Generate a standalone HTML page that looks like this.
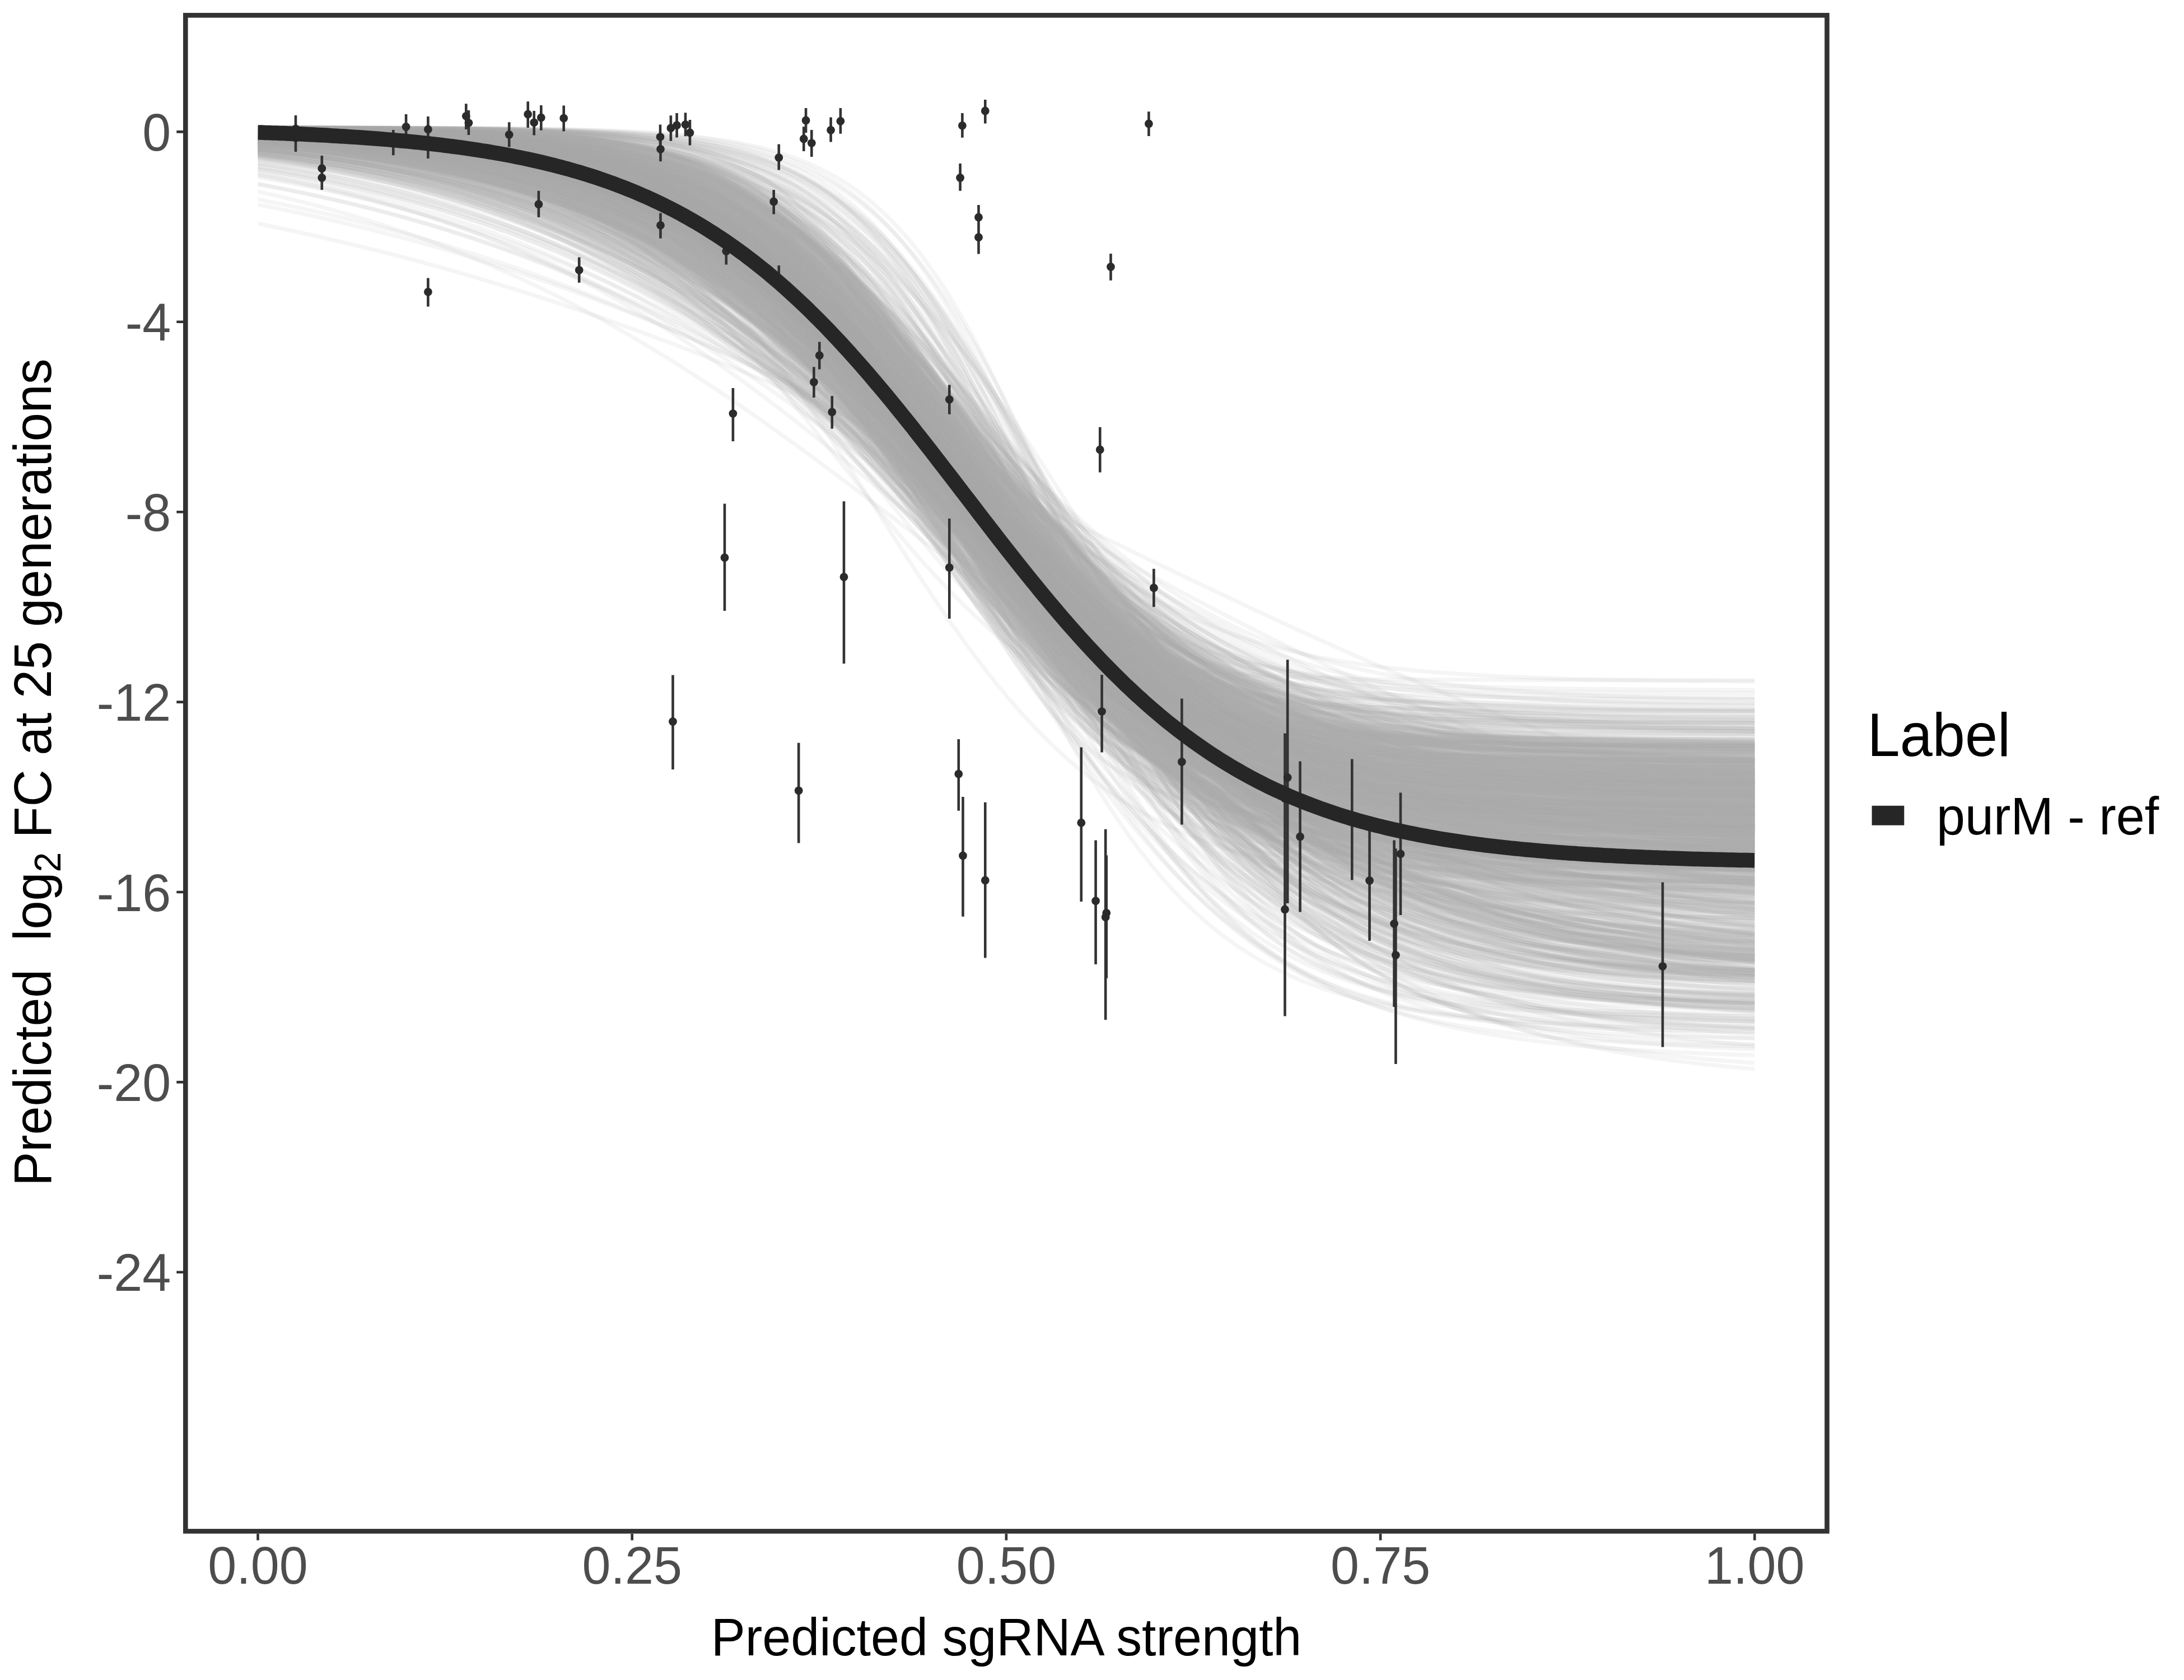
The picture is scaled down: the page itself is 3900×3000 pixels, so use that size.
<!DOCTYPE html>
<html><head><meta charset="utf-8"><title>Predicted log2 FC</title>
<style>html,body{margin:0;padding:0;background:#fff;overflow:hidden}svg{display:block}text{font-family:'Liberation Sans',Arial,Helvetica,sans-serif;white-space:pre}</style></head>
<body>
<svg width="3900" height="3000" viewBox="0 0 3900 3000">
<defs>
<path id="s" d="M-14.00 0.00000 -13.50 0.00000 -13.00 0.00000 -12.50 0.00000 -12.00 0.00001 -11.50 0.00001 -11.00 0.00002 -10.50 0.00003 -10.00 0.00005 -9.50 0.00007 -9.00 0.00012 -8.50 0.00020 -8.00 0.00034 -7.50 0.00055 -7.00 0.00091 -6.50 0.00150 -6.00 0.00247 -5.90 0.00273 -5.80 0.00302 -5.70 0.00333 -5.60 0.00368 -5.50 0.00407 -5.40 0.00450 -5.30 0.00497 -5.20 0.00549 -5.10 0.00606 -5.00 0.00669 -4.90 0.00739 -4.80 0.00816 -4.70 0.00901 -4.60 0.00995 -4.50 0.01099 -4.40 0.01213 -4.30 0.01339 -4.20 0.01477 -4.10 0.01630 -4.00 0.01799 -3.90 0.01984 -3.80 0.02188 -3.70 0.02413 -3.60 0.02660 -3.50 0.02931 -3.40 0.03230 -3.30 0.03557 -3.20 0.03917 -3.10 0.04311 -3.00 0.04743 -2.90 0.05215 -2.80 0.05732 -2.70 0.06297 -2.60 0.06914 -2.50 0.07586 -2.40 0.08317 -2.30 0.09112 -2.20 0.09975 -2.10 0.10910 -2.00 0.11920 -1.90 0.13011 -1.80 0.14185 -1.70 0.15447 -1.60 0.16798 -1.50 0.18243 -1.40 0.19782 -1.30 0.21417 -1.20 0.23148 -1.10 0.24974 -1.00 0.26894 -0.90 0.28905 -0.80 0.31003 -0.70 0.33181 -0.60 0.35434 -0.50 0.37754 -0.40 0.40131 -0.30 0.42556 -0.20 0.45017 -0.10 0.47502 -0.00 0.50000 0.10 0.52498 0.20 0.54983 0.30 0.57444 0.40 0.59869 0.50 0.62246 0.60 0.64566 0.70 0.66819 0.80 0.68997 0.90 0.71095 1.00 0.73106 1.10 0.75026 1.20 0.76852 1.30 0.78583 1.40 0.80218 1.50 0.81757 1.60 0.83202 1.70 0.84553 1.80 0.85815 1.90 0.86989 2.00 0.88080 2.10 0.89090 2.20 0.90025 2.30 0.90888 2.40 0.91683 2.50 0.92414 2.60 0.93086 2.70 0.93703 2.80 0.94268 2.90 0.94785 3.00 0.95257 3.10 0.95689 3.20 0.96083 3.30 0.96443 3.40 0.96770 3.50 0.97069 3.60 0.97340 3.70 0.97587 3.80 0.97812 3.90 0.98016 4.00 0.98201 4.10 0.98370 4.20 0.98523 4.30 0.98661 4.40 0.98787 4.50 0.98901 4.60 0.99005 4.70 0.99099 4.80 0.99184 4.90 0.99261 5.00 0.99331 5.10 0.99394 5.20 0.99451 5.30 0.99503 5.40 0.99550 5.50 0.99593 5.60 0.99632 5.70 0.99667 5.80 0.99698 5.90 0.99727 6.00 0.99753 6.50 0.99850 7.00 0.99909 7.50 0.99945 8.00 0.99966 8.50 0.99980 9.00 0.99988 9.50 0.99993 10.00 0.99995 10.50 0.99997 11.00 0.99998 11.50 0.99999 12.00 0.99999 12.50 1.00000 13.00 1.00000 13.50 1.00000 14.00 1.00000" vector-effect="non-scaling-stroke"/>
<clipPath id="cu"><rect x="460.5" y="0" width="2672.8" height="3000"/></clipPath>
<clipPath id="pn"><rect x="326.9" y="22.9" width="2940" height="2715.9"/></clipPath>
</defs>
<rect width="3900" height="3000" fill="#fff"/>
<g clip-path="url(#pn)">
<g clip-path="url(#cu)" fill="none" stroke="#b0b0b0" stroke-opacity="0.12" stroke-width="7.2">
<use href="#s" transform="matrix(192.02 0 0 1257.7 1608.4 227.8)"/><use href="#s" transform="matrix(281.48 0 0 1389.3 1685.5 227.8)"/><use href="#s" transform="matrix(260.44 0 0 1154.7 1684.7 227.8)"/><use href="#s" transform="matrix(233.77 0 0 1303.0 1737.5 227.8)"/><use href="#s" transform="matrix(258.16 0 0 1082.5 1760.2 227.8)"/><use href="#s" transform="matrix(182.76 0 0 1316.2 1755.3 227.8)"/><use href="#s" transform="matrix(173.47 0 0 1136.2 1705.4 227.8)"/><use href="#s" transform="matrix(275.91 0 0 1244.3 1708.2 227.8)"/><use href="#s" transform="matrix(201.98 0 0 1211.5 1696.7 227.8)"/><use href="#s" transform="matrix(313.91 0 0 1378.6 1749.9 227.8)"/><use href="#s" transform="matrix(285.83 0 0 1270.8 1656.1 227.8)"/><use href="#s" transform="matrix(240.48 0 0 1320.6 1702.3 227.8)"/><use href="#s" transform="matrix(274.33 0 0 1261.0 1721.0 227.8)"/><use href="#s" transform="matrix(216.36 0 0 1171.5 1736.2 227.8)"/><use href="#s" transform="matrix(199.55 0 0 1194.5 1638.9 227.8)"/><use href="#s" transform="matrix(286.82 0 0 1199.0 1700.0 227.8)"/><use href="#s" transform="matrix(246.19 0 0 1231.8 1689.0 227.8)"/><use href="#s" transform="matrix(214.57 0 0 1353.4 1650.3 227.8)"/><use href="#s" transform="matrix(352.90 0 0 1336.6 1693.2 227.8)"/><use href="#s" transform="matrix(228.56 0 0 1209.2 1645.9 227.8)"/><use href="#s" transform="matrix(217.78 0 0 1161.5 1655.2 227.8)"/><use href="#s" transform="matrix(199.55 0 0 1168.4 1729.7 227.8)"/><use href="#s" transform="matrix(234.59 0 0 1219.3 1697.3 227.8)"/><use href="#s" transform="matrix(245.78 0 0 1184.5 1646.8 227.8)"/><use href="#s" transform="matrix(255.63 0 0 1285.0 1702.5 227.8)"/><use href="#s" transform="matrix(221.60 0 0 1243.0 1766.1 227.8)"/><use href="#s" transform="matrix(245.78 0 0 1200.3 1707.7 227.8)"/><use href="#s" transform="matrix(177.02 0 0 1151.1 1722.2 227.8)"/><use href="#s" transform="matrix(258.25 0 0 1289.4 1745.3 227.8)"/><use href="#s" transform="matrix(242.03 0 0 1324.2 1697.3 227.8)"/><use href="#s" transform="matrix(171.64 0 0 1083.3 1651.4 227.8)"/><use href="#s" transform="matrix(188.55 0 0 1151.3 1696.9 227.8)"/><use href="#s" transform="matrix(209.23 0 0 1104.2 1666.7 227.8)"/><use href="#s" transform="matrix(356.62 0 0 1318.5 1708.5 227.8)"/><use href="#s" transform="matrix(185.51 0 0 1212.3 1635.4 227.8)"/><use href="#s" transform="matrix(221.72 0 0 990.7 1679.4 227.8)"/><use href="#s" transform="matrix(193.64 0 0 1300.6 1717.6 227.8)"/><use href="#s" transform="matrix(189.52 0 0 1154.7 1680.9 227.8)"/><use href="#s" transform="matrix(231.40 0 0 1206.7 1757.0 227.8)"/><use href="#s" transform="matrix(255.50 0 0 1146.4 1690.4 227.8)"/><use href="#s" transform="matrix(268.12 0 0 1218.7 1662.1 227.8)"/><use href="#s" transform="matrix(197.88 0 0 1259.4 1729.1 227.8)"/><use href="#s" transform="matrix(207.06 0 0 1288.6 1605.2 227.8)"/><use href="#s" transform="matrix(228.67 0 0 1097.0 1625.5 227.8)"/><use href="#s" transform="matrix(212.38 0 0 1139.1 1623.2 227.8)"/><use href="#s" transform="matrix(315.71 0 0 1185.4 1660.9 227.8)"/><use href="#s" transform="matrix(295.02 0 0 1354.0 1737.8 227.8)"/><use href="#s" transform="matrix(274.62 0 0 1290.8 1740.5 227.8)"/><use href="#s" transform="matrix(216.01 0 0 1244.3 1667.0 227.8)"/><use href="#s" transform="matrix(242.29 0 0 1102.5 1659.3 227.8)"/><use href="#s" transform="matrix(257.77 0 0 1274.3 1689.3 227.8)"/><use href="#s" transform="matrix(194.65 0 0 1208.6 1661.3 227.8)"/><use href="#s" transform="matrix(336.02 0 0 1371.0 1701.3 227.8)"/><use href="#s" transform="matrix(236.76 0 0 1305.0 1666.9 227.8)"/><use href="#s" transform="matrix(262.49 0 0 1214.9 1743.3 227.8)"/><use href="#s" transform="matrix(280.01 0 0 1274.7 1731.0 227.8)"/><use href="#s" transform="matrix(230.97 0 0 1192.1 1697.5 227.8)"/><use href="#s" transform="matrix(209.10 0 0 1175.0 1710.0 227.8)"/><use href="#s" transform="matrix(206.50 0 0 1263.9 1684.5 227.8)"/><use href="#s" transform="matrix(221.43 0 0 1099.2 1691.0 227.8)"/><use href="#s" transform="matrix(216.07 0 0 1226.7 1733.9 227.8)"/><use href="#s" transform="matrix(238.15 0 0 1214.1 1651.2 227.8)"/><use href="#s" transform="matrix(273.32 0 0 1322.5 1664.2 227.8)"/><use href="#s" transform="matrix(226.85 0 0 1128.8 1760.4 227.8)"/><use href="#s" transform="matrix(336.97 0 0 1297.0 1716.4 227.8)"/><use href="#s" transform="matrix(219.56 0 0 1248.9 1714.9 227.8)"/><use href="#s" transform="matrix(207.97 0 0 1168.4 1660.6 227.8)"/><use href="#s" transform="matrix(212.98 0 0 1041.0 1639.4 227.8)"/><use href="#s" transform="matrix(219.21 0 0 1314.7 1655.5 227.8)"/><use href="#s" transform="matrix(237.27 0 0 1240.6 1632.5 227.8)"/><use href="#s" transform="matrix(196.32 0 0 1055.1 1676.9 227.8)"/><use href="#s" transform="matrix(347.65 0 0 1172.4 1708.5 227.8)"/><use href="#s" transform="matrix(258.06 0 0 1173.7 1681.8 227.8)"/><use href="#s" transform="matrix(193.46 0 0 1127.7 1679.5 227.8)"/><use href="#s" transform="matrix(214.09 0 0 1175.4 1687.6 227.8)"/><use href="#s" transform="matrix(208.71 0 0 1096.4 1656.6 227.8)"/><use href="#s" transform="matrix(221.65 0 0 1078.9 1699.2 227.8)"/><use href="#s" transform="matrix(177.09 0 0 1170.2 1761.3 227.8)"/><use href="#s" transform="matrix(210.06 0 0 1197.4 1786.0 227.8)"/><use href="#s" transform="matrix(264.81 0 0 1195.2 1680.7 227.8)"/><use href="#s" transform="matrix(257.05 0 0 1107.8 1699.0 227.8)"/><use href="#s" transform="matrix(218.36 0 0 1187.7 1714.8 227.8)"/><use href="#s" transform="matrix(226.58 0 0 1157.9 1676.8 227.8)"/><use href="#s" transform="matrix(253.62 0 0 1166.1 1710.6 227.8)"/><use href="#s" transform="matrix(221.28 0 0 1212.1 1742.6 227.8)"/><use href="#s" transform="matrix(313.41 0 0 1320.7 1680.8 227.8)"/><use href="#s" transform="matrix(226.25 0 0 1201.8 1739.4 227.8)"/><use href="#s" transform="matrix(231.07 0 0 1141.4 1700.3 227.8)"/><use href="#s" transform="matrix(213.77 0 0 1342.1 1659.0 227.8)"/><use href="#s" transform="matrix(264.02 0 0 1205.7 1742.3 227.8)"/><use href="#s" transform="matrix(261.94 0 0 1265.9 1679.0 227.8)"/><use href="#s" transform="matrix(208.00 0 0 1251.7 1659.8 227.8)"/><use href="#s" transform="matrix(225.15 0 0 1195.9 1694.6 227.8)"/><use href="#s" transform="matrix(287.57 0 0 1255.7 1682.8 227.8)"/><use href="#s" transform="matrix(190.73 0 0 1051.5 1719.7 227.8)"/><use href="#s" transform="matrix(214.17 0 0 1054.8 1717.1 227.8)"/><use href="#s" transform="matrix(317.54 0 0 1211.9 1766.4 227.8)"/><use href="#s" transform="matrix(164.15 0 0 1103.7 1641.1 227.8)"/><use href="#s" transform="matrix(219.88 0 0 1162.8 1687.8 227.8)"/><use href="#s" transform="matrix(231.50 0 0 1280.5 1697.2 227.8)"/><use href="#s" transform="matrix(240.17 0 0 1351.6 1726.2 227.8)"/><use href="#s" transform="matrix(243.53 0 0 1237.0 1698.1 227.8)"/><use href="#s" transform="matrix(234.03 0 0 1286.6 1707.3 227.8)"/><use href="#s" transform="matrix(272.76 0 0 1320.8 1736.4 227.8)"/><use href="#s" transform="matrix(308.75 0 0 1305.5 1706.9 227.8)"/><use href="#s" transform="matrix(326.34 0 0 1387.4 1784.9 227.8)"/><use href="#s" transform="matrix(199.74 0 0 1133.3 1630.3 227.8)"/><use href="#s" transform="matrix(236.68 0 0 1170.5 1666.8 227.8)"/><use href="#s" transform="matrix(228.44 0 0 1320.1 1749.3 227.8)"/><use href="#s" transform="matrix(185.02 0 0 1242.4 1739.4 227.8)"/><use href="#s" transform="matrix(289.51 0 0 1254.5 1744.0 227.8)"/><use href="#s" transform="matrix(248.48 0 0 1285.4 1741.9 227.8)"/><use href="#s" transform="matrix(267.82 0 0 1296.8 1739.3 227.8)"/><use href="#s" transform="matrix(232.82 0 0 1256.6 1685.6 227.8)"/><use href="#s" transform="matrix(221.89 0 0 1183.7 1760.0 227.8)"/><use href="#s" transform="matrix(316.33 0 0 1458.6 1684.9 227.8)"/><use href="#s" transform="matrix(261.84 0 0 1194.3 1680.3 227.8)"/><use href="#s" transform="matrix(285.26 0 0 1261.2 1740.4 227.8)"/><use href="#s" transform="matrix(200.25 0 0 1298.8 1786.6 227.8)"/><use href="#s" transform="matrix(180.77 0 0 1319.1 1673.5 227.8)"/><use href="#s" transform="matrix(236.52 0 0 1250.0 1722.9 227.8)"/><use href="#s" transform="matrix(275.73 0 0 1321.7 1798.0 227.8)"/><use href="#s" transform="matrix(253.36 0 0 1346.9 1737.5 227.8)"/><use href="#s" transform="matrix(321.87 0 0 1141.3 1699.1 227.8)"/><use href="#s" transform="matrix(235.22 0 0 1254.4 1650.2 227.8)"/><use href="#s" transform="matrix(170.05 0 0 1185.5 1715.5 227.8)"/><use href="#s" transform="matrix(264.03 0 0 1282.7 1745.9 227.8)"/><use href="#s" transform="matrix(237.43 0 0 1348.6 1693.5 227.8)"/><use href="#s" transform="matrix(280.11 0 0 1251.7 1695.7 227.8)"/><use href="#s" transform="matrix(273.00 0 0 1280.5 1701.1 227.8)"/><use href="#s" transform="matrix(279.50 0 0 1363.7 1757.9 227.8)"/><use href="#s" transform="matrix(275.59 0 0 1199.3 1703.9 227.8)"/><use href="#s" transform="matrix(315.79 0 0 1194.2 1652.1 227.8)"/><use href="#s" transform="matrix(178.82 0 0 1188.9 1656.3 227.8)"/><use href="#s" transform="matrix(213.12 0 0 1223.1 1708.9 227.8)"/><use href="#s" transform="matrix(173.77 0 0 1196.1 1746.6 227.8)"/><use href="#s" transform="matrix(158.86 0 0 1028.8 1684.3 227.8)"/><use href="#s" transform="matrix(256.40 0 0 1318.0 1752.4 227.8)"/><use href="#s" transform="matrix(216.94 0 0 1414.9 1800.1 227.8)"/><use href="#s" transform="matrix(226.02 0 0 1325.2 1753.1 227.8)"/><use href="#s" transform="matrix(145.69 0 0 1130.5 1679.3 227.8)"/><use href="#s" transform="matrix(239.39 0 0 1255.7 1726.3 227.8)"/><use href="#s" transform="matrix(185.15 0 0 1052.4 1608.3 227.8)"/><use href="#s" transform="matrix(289.39 0 0 1141.3 1617.8 227.8)"/><use href="#s" transform="matrix(270.76 0 0 1280.0 1706.8 227.8)"/><use href="#s" transform="matrix(280.12 0 0 1210.6 1672.1 227.8)"/><use href="#s" transform="matrix(219.91 0 0 1118.7 1578.8 227.8)"/><use href="#s" transform="matrix(196.70 0 0 1190.8 1744.8 227.8)"/><use href="#s" transform="matrix(244.30 0 0 1333.6 1664.7 227.8)"/><use href="#s" transform="matrix(237.84 0 0 1310.0 1721.3 227.8)"/><use href="#s" transform="matrix(197.42 0 0 1121.8 1746.3 227.8)"/><use href="#s" transform="matrix(263.86 0 0 1293.9 1737.4 227.8)"/><use href="#s" transform="matrix(230.07 0 0 1225.3 1738.2 227.8)"/><use href="#s" transform="matrix(241.85 0 0 1256.3 1721.9 227.8)"/><use href="#s" transform="matrix(256.26 0 0 1153.9 1717.6 227.8)"/><use href="#s" transform="matrix(204.19 0 0 1173.0 1599.6 227.8)"/><use href="#s" transform="matrix(270.27 0 0 1338.3 1796.0 227.8)"/><use href="#s" transform="matrix(243.38 0 0 1025.0 1742.5 227.8)"/><use href="#s" transform="matrix(228.85 0 0 1239.1 1705.3 227.8)"/><use href="#s" transform="matrix(220.50 0 0 1239.5 1650.0 227.8)"/><use href="#s" transform="matrix(188.81 0 0 1210.2 1696.5 227.8)"/><use href="#s" transform="matrix(219.32 0 0 1170.9 1739.5 227.8)"/><use href="#s" transform="matrix(238.72 0 0 1207.5 1721.2 227.8)"/><use href="#s" transform="matrix(202.85 0 0 1304.7 1695.1 227.8)"/><use href="#s" transform="matrix(207.00 0 0 1257.1 1607.0 227.8)"/><use href="#s" transform="matrix(222.74 0 0 1238.6 1694.6 227.8)"/><use href="#s" transform="matrix(198.05 0 0 1151.9 1742.6 227.8)"/><use href="#s" transform="matrix(253.23 0 0 1218.1 1692.0 227.8)"/><use href="#s" transform="matrix(225.43 0 0 1376.6 1715.6 227.8)"/><use href="#s" transform="matrix(260.13 0 0 1132.4 1678.3 227.8)"/><use href="#s" transform="matrix(219.58 0 0 1198.6 1640.3 227.8)"/><use href="#s" transform="matrix(214.32 0 0 1215.6 1614.8 227.8)"/><use href="#s" transform="matrix(269.56 0 0 1456.9 1754.3 227.8)"/><use href="#s" transform="matrix(245.24 0 0 1116.2 1737.8 227.8)"/><use href="#s" transform="matrix(385.57 0 0 1310.7 1785.7 227.8)"/><use href="#s" transform="matrix(229.44 0 0 1295.5 1654.1 227.8)"/><use href="#s" transform="matrix(266.96 0 0 1251.3 1735.8 227.8)"/><use href="#s" transform="matrix(254.98 0 0 1408.9 1771.4 227.8)"/><use href="#s" transform="matrix(269.89 0 0 1200.4 1704.8 227.8)"/><use href="#s" transform="matrix(206.25 0 0 1326.8 1703.1 227.8)"/><use href="#s" transform="matrix(257.94 0 0 1251.8 1626.2 227.8)"/><use href="#s" transform="matrix(225.05 0 0 1236.5 1680.7 227.8)"/><use href="#s" transform="matrix(310.58 0 0 1213.3 1714.7 227.8)"/><use href="#s" transform="matrix(271.20 0 0 1362.2 1750.1 227.8)"/><use href="#s" transform="matrix(278.47 0 0 1270.0 1723.5 227.8)"/><use href="#s" transform="matrix(133.58 0 0 1157.4 1679.1 227.8)"/><use href="#s" transform="matrix(271.55 0 0 1134.9 1768.1 227.8)"/><use href="#s" transform="matrix(235.11 0 0 1286.1 1642.9 227.8)"/><use href="#s" transform="matrix(271.53 0 0 1179.2 1754.6 227.8)"/><use href="#s" transform="matrix(163.58 0 0 1182.5 1705.2 227.8)"/><use href="#s" transform="matrix(184.02 0 0 1200.1 1587.6 227.8)"/><use href="#s" transform="matrix(232.05 0 0 1156.1 1743.5 227.8)"/><use href="#s" transform="matrix(247.61 0 0 1331.2 1630.0 227.8)"/><use href="#s" transform="matrix(267.63 0 0 1182.0 1761.4 227.8)"/><use href="#s" transform="matrix(205.56 0 0 1189.6 1779.6 227.8)"/><use href="#s" transform="matrix(209.36 0 0 1222.1 1677.3 227.8)"/><use href="#s" transform="matrix(235.47 0 0 1233.1 1702.7 227.8)"/><use href="#s" transform="matrix(253.11 0 0 1235.0 1794.5 227.8)"/><use href="#s" transform="matrix(212.85 0 0 1171.6 1676.4 227.8)"/><use href="#s" transform="matrix(160.78 0 0 1043.0 1673.3 227.8)"/><use href="#s" transform="matrix(232.02 0 0 1111.3 1610.0 227.8)"/><use href="#s" transform="matrix(188.62 0 0 1254.5 1752.4 227.8)"/><use href="#s" transform="matrix(274.60 0 0 1117.3 1720.0 227.8)"/><use href="#s" transform="matrix(276.38 0 0 1392.6 1774.9 227.8)"/><use href="#s" transform="matrix(209.77 0 0 1108.8 1702.7 227.8)"/><use href="#s" transform="matrix(235.36 0 0 1190.8 1729.1 227.8)"/><use href="#s" transform="matrix(260.83 0 0 1172.2 1734.4 227.8)"/><use href="#s" transform="matrix(284.30 0 0 1249.3 1731.8 227.8)"/><use href="#s" transform="matrix(201.72 0 0 1177.3 1687.4 227.8)"/><use href="#s" transform="matrix(260.26 0 0 1201.1 1711.4 227.8)"/><use href="#s" transform="matrix(172.91 0 0 1222.5 1684.1 227.8)"/><use href="#s" transform="matrix(146.67 0 0 1111.6 1569.0 227.8)"/><use href="#s" transform="matrix(320.27 0 0 1387.7 1796.3 227.8)"/><use href="#s" transform="matrix(212.72 0 0 1209.8 1695.1 227.8)"/><use href="#s" transform="matrix(215.06 0 0 1216.3 1664.1 227.8)"/><use href="#s" transform="matrix(295.23 0 0 1270.3 1679.6 227.8)"/><use href="#s" transform="matrix(228.62 0 0 1181.0 1751.3 227.8)"/><use href="#s" transform="matrix(250.27 0 0 1152.9 1640.3 227.8)"/><use href="#s" transform="matrix(207.61 0 0 1189.5 1654.3 227.8)"/><use href="#s" transform="matrix(252.71 0 0 1199.3 1703.6 227.8)"/><use href="#s" transform="matrix(175.99 0 0 1058.5 1710.6 227.8)"/><use href="#s" transform="matrix(220.44 0 0 1152.5 1644.7 227.8)"/><use href="#s" transform="matrix(235.72 0 0 1320.0 1847.8 227.8)"/><use href="#s" transform="matrix(266.90 0 0 1206.8 1680.0 227.8)"/><use href="#s" transform="matrix(202.10 0 0 1118.0 1695.1 227.8)"/><use href="#s" transform="matrix(242.52 0 0 1313.0 1690.6 227.8)"/><use href="#s" transform="matrix(244.40 0 0 1350.2 1754.2 227.8)"/><use href="#s" transform="matrix(241.04 0 0 1125.7 1658.8 227.8)"/><use href="#s" transform="matrix(324.45 0 0 1191.8 1767.8 227.8)"/><use href="#s" transform="matrix(201.80 0 0 1208.1 1728.6 227.8)"/><use href="#s" transform="matrix(249.27 0 0 1372.5 1736.4 227.8)"/><use href="#s" transform="matrix(215.18 0 0 1163.1 1773.7 227.8)"/><use href="#s" transform="matrix(222.40 0 0 1080.7 1694.7 227.8)"/><use href="#s" transform="matrix(331.06 0 0 1387.2 1711.7 227.8)"/><use href="#s" transform="matrix(143.14 0 0 1244.0 1641.4 227.8)"/><use href="#s" transform="matrix(205.77 0 0 1216.6 1661.9 227.8)"/><use href="#s" transform="matrix(228.86 0 0 1267.0 1688.7 227.8)"/><use href="#s" transform="matrix(184.35 0 0 1264.2 1702.4 227.8)"/><use href="#s" transform="matrix(254.60 0 0 1194.2 1714.1 227.8)"/><use href="#s" transform="matrix(254.42 0 0 1331.7 1732.8 227.8)"/><use href="#s" transform="matrix(347.00 0 0 1505.6 1696.2 227.8)"/><use href="#s" transform="matrix(250.19 0 0 1258.3 1737.1 227.8)"/><use href="#s" transform="matrix(250.75 0 0 1352.5 1710.2 227.8)"/><use href="#s" transform="matrix(229.01 0 0 1281.5 1704.0 227.8)"/><use href="#s" transform="matrix(199.66 0 0 1182.2 1681.7 227.8)"/><use href="#s" transform="matrix(188.27 0 0 1134.0 1658.2 227.8)"/><use href="#s" transform="matrix(201.01 0 0 1185.0 1654.4 227.8)"/><use href="#s" transform="matrix(271.01 0 0 1216.7 1635.6 227.8)"/><use href="#s" transform="matrix(188.41 0 0 1259.3 1655.2 227.8)"/><use href="#s" transform="matrix(222.27 0 0 1343.5 1784.5 227.8)"/><use href="#s" transform="matrix(235.53 0 0 1139.2 1771.4 227.8)"/><use href="#s" transform="matrix(234.52 0 0 1227.4 1736.9 227.8)"/><use href="#s" transform="matrix(272.92 0 0 1289.7 1706.6 227.8)"/><use href="#s" transform="matrix(239.84 0 0 1292.5 1676.8 227.8)"/><use href="#s" transform="matrix(232.50 0 0 1356.4 1701.6 227.8)"/><use href="#s" transform="matrix(191.99 0 0 1184.6 1575.3 227.8)"/><use href="#s" transform="matrix(261.40 0 0 1243.5 1678.3 227.8)"/><use href="#s" transform="matrix(244.00 0 0 1317.6 1861.0 227.8)"/><use href="#s" transform="matrix(216.90 0 0 1215.2 1633.1 227.8)"/><use href="#s" transform="matrix(285.41 0 0 1331.3 1734.7 227.8)"/><use href="#s" transform="matrix(220.47 0 0 1360.8 1739.4 227.8)"/><use href="#s" transform="matrix(285.96 0 0 1359.5 1683.1 227.8)"/><use href="#s" transform="matrix(184.79 0 0 1106.3 1773.8 227.8)"/><use href="#s" transform="matrix(227.15 0 0 1206.8 1686.2 227.8)"/><use href="#s" transform="matrix(331.58 0 0 1281.0 1766.5 227.8)"/><use href="#s" transform="matrix(291.51 0 0 1339.1 1678.0 227.8)"/><use href="#s" transform="matrix(197.11 0 0 1158.3 1758.0 227.8)"/><use href="#s" transform="matrix(273.29 0 0 1148.6 1707.2 227.8)"/><use href="#s" transform="matrix(215.26 0 0 1259.7 1671.2 227.8)"/><use href="#s" transform="matrix(211.60 0 0 1303.8 1629.9 227.8)"/><use href="#s" transform="matrix(206.93 0 0 1207.6 1732.8 227.8)"/><use href="#s" transform="matrix(305.15 0 0 1184.8 1673.3 227.8)"/><use href="#s" transform="matrix(222.75 0 0 1111.5 1736.4 227.8)"/><use href="#s" transform="matrix(218.34 0 0 1176.6 1636.5 227.8)"/><use href="#s" transform="matrix(285.48 0 0 1320.2 1671.6 227.8)"/><use href="#s" transform="matrix(267.93 0 0 1416.6 1760.3 227.8)"/><use href="#s" transform="matrix(152.70 0 0 1065.5 1746.5 227.8)"/><use href="#s" transform="matrix(243.95 0 0 1219.1 1675.6 227.8)"/><use href="#s" transform="matrix(338.67 0 0 1333.9 1745.2 227.8)"/><use href="#s" transform="matrix(280.40 0 0 1429.7 1824.6 227.8)"/><use href="#s" transform="matrix(248.04 0 0 1233.1 1748.9 227.8)"/><use href="#s" transform="matrix(230.26 0 0 1224.2 1681.9 227.8)"/><use href="#s" transform="matrix(220.05 0 0 1126.9 1721.5 227.8)"/><use href="#s" transform="matrix(264.99 0 0 1333.7 1733.5 227.8)"/><use href="#s" transform="matrix(221.38 0 0 1149.9 1683.5 227.8)"/><use href="#s" transform="matrix(230.24 0 0 1218.6 1717.4 227.8)"/><use href="#s" transform="matrix(234.56 0 0 1348.1 1739.6 227.8)"/><use href="#s" transform="matrix(238.06 0 0 1126.3 1693.7 227.8)"/><use href="#s" transform="matrix(211.56 0 0 1240.6 1615.8 227.8)"/><use href="#s" transform="matrix(234.95 0 0 1247.7 1688.9 227.8)"/><use href="#s" transform="matrix(210.22 0 0 1162.2 1682.9 227.8)"/><use href="#s" transform="matrix(342.24 0 0 1275.3 1681.4 227.8)"/><use href="#s" transform="matrix(263.54 0 0 1379.9 1687.0 227.8)"/><use href="#s" transform="matrix(281.06 0 0 1203.4 1775.9 227.8)"/><use href="#s" transform="matrix(234.93 0 0 1370.6 1775.2 227.8)"/><use href="#s" transform="matrix(199.39 0 0 1275.9 1731.5 227.8)"/><use href="#s" transform="matrix(271.02 0 0 1369.3 1720.5 227.8)"/><use href="#s" transform="matrix(240.07 0 0 1183.8 1625.1 227.8)"/><use href="#s" transform="matrix(213.86 0 0 1361.3 1748.3 227.8)"/><use href="#s" transform="matrix(249.91 0 0 1328.4 1740.5 227.8)"/><use href="#s" transform="matrix(208.69 0 0 1118.9 1600.4 227.8)"/><use href="#s" transform="matrix(230.48 0 0 1174.2 1682.2 227.8)"/><use href="#s" transform="matrix(172.20 0 0 1142.1 1727.3 227.8)"/><use href="#s" transform="matrix(271.95 0 0 1187.2 1682.6 227.8)"/><use href="#s" transform="matrix(351.78 0 0 1321.8 1769.2 227.8)"/><use href="#s" transform="matrix(247.51 0 0 1221.6 1753.5 227.8)"/><use href="#s" transform="matrix(249.37 0 0 1235.0 1765.7 227.8)"/><use href="#s" transform="matrix(154.55 0 0 1099.3 1630.5 227.8)"/><use href="#s" transform="matrix(167.65 0 0 1160.6 1838.5 227.8)"/><use href="#s" transform="matrix(303.51 0 0 1351.0 1624.9 227.8)"/><use href="#s" transform="matrix(240.70 0 0 1255.6 1680.4 227.8)"/><use href="#s" transform="matrix(258.80 0 0 1222.0 1747.3 227.8)"/><use href="#s" transform="matrix(241.18 0 0 1225.8 1600.8 227.8)"/><use href="#s" transform="matrix(304.59 0 0 1256.4 1752.9 227.8)"/><use href="#s" transform="matrix(325.28 0 0 1230.0 1702.1 227.8)"/><use href="#s" transform="matrix(191.67 0 0 1130.7 1704.4 227.8)"/><use href="#s" transform="matrix(295.30 0 0 1332.4 1747.6 227.8)"/><use href="#s" transform="matrix(195.50 0 0 1115.5 1671.0 227.8)"/><use href="#s" transform="matrix(241.39 0 0 1253.5 1755.2 227.8)"/><use href="#s" transform="matrix(234.51 0 0 1201.2 1766.0 227.8)"/><use href="#s" transform="matrix(254.66 0 0 1225.5 1663.6 227.8)"/><use href="#s" transform="matrix(237.17 0 0 1232.9 1734.2 227.8)"/><use href="#s" transform="matrix(207.61 0 0 1216.4 1683.6 227.8)"/><use href="#s" transform="matrix(277.21 0 0 1385.9 1758.4 227.8)"/><use href="#s" transform="matrix(302.11 0 0 1266.8 1766.8 227.8)"/><use href="#s" transform="matrix(195.14 0 0 1194.3 1596.3 227.8)"/><use href="#s" transform="matrix(270.88 0 0 1077.3 1605.8 227.8)"/><use href="#s" transform="matrix(228.30 0 0 1195.9 1650.8 227.8)"/><use href="#s" transform="matrix(254.38 0 0 1199.6 1737.1 227.8)"/><use href="#s" transform="matrix(240.93 0 0 1295.6 1740.7 227.8)"/><use href="#s" transform="matrix(251.25 0 0 1396.1 1650.0 227.8)"/><use href="#s" transform="matrix(242.41 0 0 1210.6 1739.7 227.8)"/><use href="#s" transform="matrix(215.37 0 0 1273.1 1629.7 227.8)"/><use href="#s" transform="matrix(276.80 0 0 1362.7 1768.1 227.8)"/><use href="#s" transform="matrix(284.76 0 0 1273.1 1676.0 227.8)"/><use href="#s" transform="matrix(208.65 0 0 1283.9 1658.9 227.8)"/><use href="#s" transform="matrix(293.72 0 0 1130.5 1655.0 227.8)"/><use href="#s" transform="matrix(230.51 0 0 1162.4 1720.4 227.8)"/><use href="#s" transform="matrix(269.44 0 0 1183.2 1682.8 227.8)"/><use href="#s" transform="matrix(229.39 0 0 1218.6 1703.7 227.8)"/><use href="#s" transform="matrix(213.19 0 0 1209.4 1679.1 227.8)"/><use href="#s" transform="matrix(219.94 0 0 1135.6 1773.0 227.8)"/><use href="#s" transform="matrix(146.28 0 0 1154.0 1646.5 227.8)"/><use href="#s" transform="matrix(328.93 0 0 1290.5 1715.8 227.8)"/><use href="#s" transform="matrix(329.01 0 0 1361.5 1693.6 227.8)"/><use href="#s" transform="matrix(230.78 0 0 1253.3 1631.4 227.8)"/><use href="#s" transform="matrix(200.15 0 0 1118.5 1693.3 227.8)"/><use href="#s" transform="matrix(260.85 0 0 1292.3 1740.2 227.8)"/><use href="#s" transform="matrix(323.83 0 0 1338.3 1772.7 227.8)"/><use href="#s" transform="matrix(207.69 0 0 1294.4 1682.9 227.8)"/><use href="#s" transform="matrix(232.89 0 0 1222.0 1675.9 227.8)"/><use href="#s" transform="matrix(251.55 0 0 1319.0 1665.4 227.8)"/><use href="#s" transform="matrix(287.30 0 0 1248.6 1637.3 227.8)"/><use href="#s" transform="matrix(213.38 0 0 1137.0 1690.1 227.8)"/><use href="#s" transform="matrix(214.95 0 0 1215.6 1784.1 227.8)"/><use href="#s" transform="matrix(198.35 0 0 1129.9 1693.5 227.8)"/><use href="#s" transform="matrix(228.47 0 0 1125.0 1695.7 227.8)"/><use href="#s" transform="matrix(270.63 0 0 1227.9 1741.5 227.8)"/><use href="#s" transform="matrix(218.90 0 0 1246.5 1772.4 227.8)"/><use href="#s" transform="matrix(178.97 0 0 1118.9 1696.9 227.8)"/><use href="#s" transform="matrix(219.64 0 0 1150.9 1668.2 227.8)"/><use href="#s" transform="matrix(186.14 0 0 1126.9 1641.4 227.8)"/><use href="#s" transform="matrix(170.62 0 0 1060.6 1642.5 227.8)"/><use href="#s" transform="matrix(237.39 0 0 1258.0 1688.8 227.8)"/><use href="#s" transform="matrix(341.27 0 0 1191.8 1692.4 227.8)"/><use href="#s" transform="matrix(196.03 0 0 1129.4 1643.5 227.8)"/><use href="#s" transform="matrix(218.97 0 0 1168.7 1635.9 227.8)"/><use href="#s" transform="matrix(238.72 0 0 1164.0 1711.2 227.8)"/><use href="#s" transform="matrix(182.47 0 0 1104.6 1666.9 227.8)"/><use href="#s" transform="matrix(213.83 0 0 1181.3 1736.7 227.8)"/><use href="#s" transform="matrix(311.77 0 0 1330.9 1784.7 227.8)"/><use href="#s" transform="matrix(193.33 0 0 1227.5 1641.3 227.8)"/><use href="#s" transform="matrix(236.99 0 0 1209.5 1638.4 227.8)"/><use href="#s" transform="matrix(196.68 0 0 1185.2 1738.1 227.8)"/><use href="#s" transform="matrix(241.22 0 0 1283.6 1685.5 227.8)"/><use href="#s" transform="matrix(358.50 0 0 1422.4 1680.9 227.8)"/><use href="#s" transform="matrix(214.04 0 0 1158.5 1665.4 227.8)"/><use href="#s" transform="matrix(327.16 0 0 1293.9 1758.8 227.8)"/><use href="#s" transform="matrix(244.28 0 0 1390.7 1703.2 227.8)"/><use href="#s" transform="matrix(188.36 0 0 1172.0 1603.5 227.8)"/><use href="#s" transform="matrix(285.87 0 0 1156.0 1692.2 227.8)"/><use href="#s" transform="matrix(302.49 0 0 1398.4 1776.7 227.8)"/><use href="#s" transform="matrix(232.99 0 0 1132.7 1660.4 227.8)"/><use href="#s" transform="matrix(300.92 0 0 1320.0 1687.8 227.8)"/><use href="#s" transform="matrix(185.80 0 0 1223.7 1690.5 227.8)"/><use href="#s" transform="matrix(263.76 0 0 1391.9 1708.6 227.8)"/><use href="#s" transform="matrix(289.69 0 0 1329.2 1676.0 227.8)"/><use href="#s" transform="matrix(305.23 0 0 1232.6 1655.3 227.8)"/><use href="#s" transform="matrix(218.21 0 0 1155.0 1735.0 227.8)"/><use href="#s" transform="matrix(272.43 0 0 1328.9 1726.5 227.8)"/><use href="#s" transform="matrix(287.33 0 0 1196.5 1722.7 227.8)"/><use href="#s" transform="matrix(196.35 0 0 1161.1 1657.8 227.8)"/><use href="#s" transform="matrix(204.28 0 0 1138.5 1656.5 227.8)"/><use href="#s" transform="matrix(177.40 0 0 1114.5 1687.6 227.8)"/><use href="#s" transform="matrix(241.17 0 0 1251.1 1676.1 227.8)"/><use href="#s" transform="matrix(198.02 0 0 1004.8 1642.5 227.8)"/><use href="#s" transform="matrix(303.16 0 0 1260.7 1735.1 227.8)"/><use href="#s" transform="matrix(188.57 0 0 1225.9 1655.0 227.8)"/><use href="#s" transform="matrix(228.16 0 0 1224.4 1724.1 227.8)"/><use href="#s" transform="matrix(248.56 0 0 1343.4 1648.2 227.8)"/><use href="#s" transform="matrix(382.94 0 0 1379.9 1765.2 227.8)"/><use href="#s" transform="matrix(299.11 0 0 1346.6 1719.8 227.8)"/><use href="#s" transform="matrix(280.08 0 0 1217.8 1722.9 227.8)"/><use href="#s" transform="matrix(205.26 0 0 1143.5 1711.5 227.8)"/><use href="#s" transform="matrix(212.28 0 0 1325.5 1724.8 227.8)"/><use href="#s" transform="matrix(256.64 0 0 1268.8 1704.7 227.8)"/><use href="#s" transform="matrix(227.82 0 0 1305.8 1728.3 227.8)"/><use href="#s" transform="matrix(200.94 0 0 1224.1 1639.8 227.8)"/><use href="#s" transform="matrix(217.25 0 0 1179.4 1742.8 227.8)"/><use href="#s" transform="matrix(248.59 0 0 1121.9 1633.4 227.8)"/><use href="#s" transform="matrix(223.72 0 0 1291.1 1775.3 227.8)"/><use href="#s" transform="matrix(357.39 0 0 1446.5 1730.8 227.8)"/><use href="#s" transform="matrix(266.40 0 0 1177.9 1701.2 227.8)"/><use href="#s" transform="matrix(219.47 0 0 1177.9 1674.2 227.8)"/><use href="#s" transform="matrix(187.61 0 0 1105.3 1701.2 227.8)"/><use href="#s" transform="matrix(319.57 0 0 1187.2 1600.5 227.8)"/><use href="#s" transform="matrix(195.63 0 0 1110.4 1708.2 227.8)"/><use href="#s" transform="matrix(235.74 0 0 1230.7 1581.6 227.8)"/><use href="#s" transform="matrix(273.06 0 0 1256.6 1695.8 227.8)"/><use href="#s" transform="matrix(295.76 0 0 1142.6 1734.3 227.8)"/><use href="#s" transform="matrix(290.37 0 0 1257.2 1639.3 227.8)"/><use href="#s" transform="matrix(194.59 0 0 1169.7 1708.8 227.8)"/><use href="#s" transform="matrix(206.34 0 0 1227.9 1708.5 227.8)"/><use href="#s" transform="matrix(195.40 0 0 1143.2 1677.7 227.8)"/><use href="#s" transform="matrix(182.86 0 0 1152.9 1698.6 227.8)"/><use href="#s" transform="matrix(182.85 0 0 1104.3 1682.1 227.8)"/><use href="#s" transform="matrix(245.98 0 0 1191.8 1648.8 227.8)"/><use href="#s" transform="matrix(197.26 0 0 1102.6 1697.8 227.8)"/><use href="#s" transform="matrix(220.48 0 0 1194.2 1674.3 227.8)"/><use href="#s" transform="matrix(211.54 0 0 1192.6 1712.4 227.8)"/><use href="#s" transform="matrix(291.79 0 0 1355.5 1737.4 227.8)"/><use href="#s" transform="matrix(225.36 0 0 1208.8 1752.4 227.8)"/><use href="#s" transform="matrix(277.95 0 0 1258.9 1688.0 227.8)"/><use href="#s" transform="matrix(233.33 0 0 1173.0 1661.3 227.8)"/><use href="#s" transform="matrix(232.11 0 0 1181.0 1707.6 227.8)"/><use href="#s" transform="matrix(216.31 0 0 1151.8 1688.0 227.8)"/><use href="#s" transform="matrix(246.68 0 0 1299.4 1732.1 227.8)"/><use href="#s" transform="matrix(203.68 0 0 1247.2 1688.4 227.8)"/><use href="#s" transform="matrix(194.93 0 0 1101.5 1630.1 227.8)"/><use href="#s" transform="matrix(178.29 0 0 1047.3 1662.1 227.8)"/><use href="#s" transform="matrix(225.16 0 0 1238.8 1688.8 227.8)"/><use href="#s" transform="matrix(259.92 0 0 1318.8 1697.5 227.8)"/><use href="#s" transform="matrix(326.79 0 0 1223.6 1734.4 227.8)"/><use href="#s" transform="matrix(194.54 0 0 1102.1 1667.9 227.8)"/><use href="#s" transform="matrix(270.71 0 0 1227.2 1779.3 227.8)"/><use href="#s" transform="matrix(200.20 0 0 1059.9 1629.0 227.8)"/><use href="#s" transform="matrix(163.26 0 0 1093.0 1673.7 227.8)"/><use href="#s" transform="matrix(264.26 0 0 1452.2 1747.3 227.8)"/><use href="#s" transform="matrix(305.01 0 0 1270.5 1653.7 227.8)"/><use href="#s" transform="matrix(239.31 0 0 1351.6 1677.8 227.8)"/><use href="#s" transform="matrix(233.57 0 0 1231.1 1753.2 227.8)"/><use href="#s" transform="matrix(272.13 0 0 1252.5 1744.2 227.8)"/><use href="#s" transform="matrix(206.38 0 0 1178.3 1660.8 227.8)"/><use href="#s" transform="matrix(135.45 0 0 986.7 1602.6 227.8)"/><use href="#s" transform="matrix(235.88 0 0 1313.4 1684.3 227.8)"/><use href="#s" transform="matrix(157.06 0 0 1129.4 1681.0 227.8)"/><use href="#s" transform="matrix(253.19 0 0 1341.9 1757.8 227.8)"/><use href="#s" transform="matrix(294.48 0 0 1245.7 1676.6 227.8)"/><use href="#s" transform="matrix(294.30 0 0 1259.4 1697.7 227.8)"/><use href="#s" transform="matrix(197.53 0 0 1217.3 1764.7 227.8)"/><use href="#s" transform="matrix(182.63 0 0 1063.4 1751.2 227.8)"/><use href="#s" transform="matrix(245.79 0 0 1115.7 1742.3 227.8)"/><use href="#s" transform="matrix(261.48 0 0 1241.3 1715.7 227.8)"/><use href="#s" transform="matrix(249.14 0 0 1291.1 1727.5 227.8)"/><use href="#s" transform="matrix(226.33 0 0 1246.3 1711.4 227.8)"/><use href="#s" transform="matrix(251.09 0 0 1266.7 1759.9 227.8)"/><use href="#s" transform="matrix(247.34 0 0 1205.3 1637.4 227.8)"/><use href="#s" transform="matrix(214.58 0 0 1169.4 1684.3 227.8)"/><use href="#s" transform="matrix(297.97 0 0 1285.0 1690.8 227.8)"/><use href="#s" transform="matrix(204.21 0 0 1074.5 1721.8 227.8)"/><use href="#s" transform="matrix(261.71 0 0 1272.6 1733.9 227.8)"/><use href="#s" transform="matrix(277.26 0 0 1254.8 1666.6 227.8)"/><use href="#s" transform="matrix(202.03 0 0 1153.6 1713.1 227.8)"/><use href="#s" transform="matrix(254.70 0 0 1265.0 1795.2 227.8)"/><use href="#s" transform="matrix(214.70 0 0 1212.6 1704.6 227.8)"/><use href="#s" transform="matrix(337.41 0 0 1323.8 1751.4 227.8)"/><use href="#s" transform="matrix(234.82 0 0 1213.7 1653.0 227.8)"/><use href="#s" transform="matrix(182.77 0 0 1169.1 1723.7 227.8)"/><use href="#s" transform="matrix(198.74 0 0 1113.8 1659.2 227.8)"/><use href="#s" transform="matrix(243.20 0 0 1326.7 1748.5 227.8)"/><use href="#s" transform="matrix(232.88 0 0 1225.0 1671.8 227.8)"/><use href="#s" transform="matrix(223.73 0 0 1108.4 1741.2 227.8)"/><use href="#s" transform="matrix(306.08 0 0 1352.2 1687.5 227.8)"/><use href="#s" transform="matrix(248.27 0 0 1166.6 1643.4 227.8)"/><use href="#s" transform="matrix(200.55 0 0 1170.3 1720.1 227.8)"/><use href="#s" transform="matrix(283.84 0 0 1383.5 1627.3 227.8)"/><use href="#s" transform="matrix(264.28 0 0 1178.9 1683.8 227.8)"/><use href="#s" transform="matrix(190.43 0 0 1164.1 1644.9 227.8)"/><use href="#s" transform="matrix(179.59 0 0 1225.3 1686.6 227.8)"/><use href="#s" transform="matrix(176.51 0 0 1092.3 1691.7 227.8)"/><use href="#s" transform="matrix(224.16 0 0 1272.2 1659.0 227.8)"/><use href="#s" transform="matrix(211.00 0 0 1143.0 1608.0 227.8)"/><use href="#s" transform="matrix(183.43 0 0 1155.2 1622.5 227.8)"/><use href="#s" transform="matrix(208.08 0 0 1254.5 1693.7 227.8)"/><use href="#s" transform="matrix(185.81 0 0 1186.6 1622.1 227.8)"/><use href="#s" transform="matrix(317.40 0 0 1376.6 1728.7 227.8)"/><use href="#s" transform="matrix(252.00 0 0 1134.4 1735.7 227.8)"/><use href="#s" transform="matrix(220.28 0 0 1230.2 1637.5 227.8)"/><use href="#s" transform="matrix(276.81 0 0 1194.0 1701.0 227.8)"/><use href="#s" transform="matrix(228.98 0 0 1263.9 1724.9 227.8)"/><use href="#s" transform="matrix(204.12 0 0 1169.4 1666.2 227.8)"/><use href="#s" transform="matrix(275.56 0 0 1346.4 1772.2 227.8)"/><use href="#s" transform="matrix(207.02 0 0 1193.8 1699.8 227.8)"/><use href="#s" transform="matrix(186.34 0 0 1106.0 1632.9 227.8)"/><use href="#s" transform="matrix(196.21 0 0 1082.0 1724.7 227.8)"/><use href="#s" transform="matrix(288.71 0 0 1289.1 1637.1 227.8)"/><use href="#s" transform="matrix(203.63 0 0 1018.3 1642.8 227.8)"/><use href="#s" transform="matrix(193.01 0 0 1209.8 1679.0 227.8)"/><use href="#s" transform="matrix(254.13 0 0 1135.0 1648.1 227.8)"/><use href="#s" transform="matrix(211.78 0 0 1167.6 1672.7 227.8)"/><use href="#s" transform="matrix(231.56 0 0 1217.1 1706.2 227.8)"/><use href="#s" transform="matrix(210.32 0 0 1280.9 1654.5 227.8)"/><use href="#s" transform="matrix(234.56 0 0 1199.0 1688.4 227.8)"/><use href="#s" transform="matrix(228.68 0 0 1296.6 1676.5 227.8)"/><use href="#s" transform="matrix(255.32 0 0 1378.0 1749.6 227.8)"/><use href="#s" transform="matrix(198.24 0 0 1174.3 1671.1 227.8)"/><use href="#s" transform="matrix(212.62 0 0 1146.5 1639.3 227.8)"/><use href="#s" transform="matrix(199.54 0 0 1135.7 1717.4 227.8)"/><use href="#s" transform="matrix(191.57 0 0 1167.7 1736.6 227.8)"/><use href="#s" transform="matrix(249.92 0 0 1328.7 1699.1 227.8)"/><use href="#s" transform="matrix(289.49 0 0 1366.6 1744.7 227.8)"/><use href="#s" transform="matrix(201.90 0 0 1327.0 1717.6 227.8)"/><use href="#s" transform="matrix(223.29 0 0 1250.0 1710.9 227.8)"/><use href="#s" transform="matrix(222.35 0 0 1328.3 1787.3 227.8)"/><use href="#s" transform="matrix(209.61 0 0 1224.1 1663.9 227.8)"/><use href="#s" transform="matrix(182.31 0 0 1194.7 1674.7 227.8)"/><use href="#s" transform="matrix(214.90 0 0 1078.7 1656.2 227.8)"/><use href="#s" transform="matrix(193.06 0 0 1083.5 1713.7 227.8)"/><use href="#s" transform="matrix(193.63 0 0 1185.5 1594.8 227.8)"/><use href="#s" transform="matrix(253.45 0 0 1295.5 1814.0 227.8)"/><use href="#s" transform="matrix(237.37 0 0 1230.9 1701.1 227.8)"/><use href="#s" transform="matrix(242.12 0 0 1199.8 1731.0 227.8)"/><use href="#s" transform="matrix(231.17 0 0 1252.7 1716.1 227.8)"/><use href="#s" transform="matrix(165.26 0 0 1172.4 1634.9 227.8)"/><use href="#s" transform="matrix(263.83 0 0 1312.5 1762.8 227.8)"/><use href="#s" transform="matrix(195.53 0 0 1210.6 1714.3 227.8)"/><use href="#s" transform="matrix(194.13 0 0 1335.8 1714.9 227.8)"/><use href="#s" transform="matrix(345.77 0 0 1244.1 1722.0 227.8)"/><use href="#s" transform="matrix(265.81 0 0 1310.7 1719.7 227.8)"/><use href="#s" transform="matrix(311.49 0 0 1217.5 1752.5 227.8)"/><use href="#s" transform="matrix(270.83 0 0 1171.8 1746.6 227.8)"/><use href="#s" transform="matrix(224.23 0 0 1265.8 1710.7 227.8)"/><use href="#s" transform="matrix(193.57 0 0 1177.1 1650.0 227.8)"/><use href="#s" transform="matrix(280.40 0 0 1253.9 1664.4 227.8)"/><use href="#s" transform="matrix(285.46 0 0 1304.0 1791.3 227.8)"/><use href="#s" transform="matrix(177.46 0 0 1127.3 1666.1 227.8)"/><use href="#s" transform="matrix(227.37 0 0 1300.6 1628.5 227.8)"/><use href="#s" transform="matrix(260.97 0 0 1286.0 1672.4 227.8)"/><use href="#s" transform="matrix(244.99 0 0 1325.8 1734.1 227.8)"/><use href="#s" transform="matrix(229.68 0 0 1359.5 1720.5 227.8)"/><use href="#s" transform="matrix(174.67 0 0 1166.4 1654.7 227.8)"/><use href="#s" transform="matrix(150.68 0 0 1105.3 1763.2 227.8)"/><use href="#s" transform="matrix(191.25 0 0 1103.4 1616.9 227.8)"/><use href="#s" transform="matrix(267.00 0 0 1289.3 1653.8 227.8)"/><use href="#s" transform="matrix(292.93 0 0 1318.1 1740.9 227.8)"/><use href="#s" transform="matrix(170.38 0 0 1178.1 1732.4 227.8)"/><use href="#s" transform="matrix(312.76 0 0 1196.2 1729.3 227.8)"/><use href="#s" transform="matrix(180.13 0 0 1156.5 1754.2 227.8)"/><use href="#s" transform="matrix(205.46 0 0 1234.4 1639.9 227.8)"/><use href="#s" transform="matrix(193.63 0 0 1283.9 1639.5 227.8)"/><use href="#s" transform="matrix(242.85 0 0 1297.2 1750.7 227.8)"/><use href="#s" transform="matrix(239.66 0 0 1236.8 1757.9 227.8)"/><use href="#s" transform="matrix(220.09 0 0 1233.8 1639.2 227.8)"/><use href="#s" transform="matrix(220.30 0 0 1264.5 1696.8 227.8)"/><use href="#s" transform="matrix(317.96 0 0 1226.2 1668.5 227.8)"/><use href="#s" transform="matrix(241.30 0 0 1207.4 1797.9 227.8)"/><use href="#s" transform="matrix(303.56 0 0 1298.0 1822.3 227.8)"/><use href="#s" transform="matrix(246.93 0 0 1117.3 1651.6 227.8)"/><use href="#s" transform="matrix(157.69 0 0 1224.6 1672.4 227.8)"/><use href="#s" transform="matrix(310.20 0 0 1277.5 1699.3 227.8)"/><use href="#s" transform="matrix(244.97 0 0 1474.5 1769.5 227.8)"/><use href="#s" transform="matrix(248.76 0 0 1369.4 1743.6 227.8)"/><use href="#s" transform="matrix(268.22 0 0 1142.2 1668.2 227.8)"/><use href="#s" transform="matrix(258.43 0 0 1202.5 1736.0 227.8)"/><use href="#s" transform="matrix(279.92 0 0 1400.9 1657.0 227.8)"/><use href="#s" transform="matrix(178.57 0 0 1129.3 1714.9 227.8)"/><use href="#s" transform="matrix(218.20 0 0 1251.1 1753.2 227.8)"/><use href="#s" transform="matrix(225.74 0 0 1234.9 1685.9 227.8)"/><use href="#s" transform="matrix(192.68 0 0 1073.4 1673.4 227.8)"/><use href="#s" transform="matrix(266.32 0 0 1265.3 1730.2 227.8)"/><use href="#s" transform="matrix(260.95 0 0 1263.7 1664.4 227.8)"/><use href="#s" transform="matrix(209.91 0 0 1171.1 1729.7 227.8)"/><use href="#s" transform="matrix(284.11 0 0 1400.2 1750.4 227.8)"/><use href="#s" transform="matrix(308.90 0 0 1339.5 1754.0 227.8)"/><use href="#s" transform="matrix(239.49 0 0 1190.0 1733.1 227.8)"/><use href="#s" transform="matrix(219.12 0 0 1208.8 1645.6 227.8)"/><use href="#s" transform="matrix(268.55 0 0 1223.6 1692.9 227.8)"/><use href="#s" transform="matrix(308.19 0 0 1511.9 1731.2 227.8)"/><use href="#s" transform="matrix(256.15 0 0 1195.1 1785.1 227.8)"/><use href="#s" transform="matrix(150.57 0 0 1170.5 1665.9 227.8)"/><use href="#s" transform="matrix(260.40 0 0 1344.6 1689.0 227.8)"/><use href="#s" transform="matrix(188.05 0 0 1213.3 1682.6 227.8)"/><use href="#s" transform="matrix(144.12 0 0 1072.2 1629.5 227.8)"/><use href="#s" transform="matrix(181.15 0 0 1200.8 1609.0 227.8)"/><use href="#s" transform="matrix(203.30 0 0 1185.5 1720.0 227.8)"/><use href="#s" transform="matrix(290.20 0 0 1281.8 1760.4 227.8)"/><use href="#s" transform="matrix(219.37 0 0 1190.1 1651.1 227.8)"/><use href="#s" transform="matrix(295.93 0 0 1396.7 1725.8 227.8)"/><use href="#s" transform="matrix(210.17 0 0 1182.2 1629.1 227.8)"/><use href="#s" transform="matrix(242.04 0 0 1221.4 1779.0 227.8)"/><use href="#s" transform="matrix(235.13 0 0 1201.1 1706.2 227.8)"/><use href="#s" transform="matrix(188.28 0 0 1327.8 1724.5 227.8)"/><use href="#s" transform="matrix(190.75 0 0 1279.1 1702.7 227.8)"/><use href="#s" transform="matrix(269.78 0 0 1271.9 1707.3 227.8)"/><use href="#s" transform="matrix(152.39 0 0 1165.0 1714.9 227.8)"/><use href="#s" transform="matrix(296.09 0 0 1297.7 1726.6 227.8)"/><use href="#s" transform="matrix(245.92 0 0 1172.1 1634.5 227.8)"/><use href="#s" transform="matrix(142.73 0 0 1175.0 1647.1 227.8)"/><use href="#s" transform="matrix(215.77 0 0 1296.6 1729.3 227.8)"/><use href="#s" transform="matrix(297.81 0 0 1304.3 1795.8 227.8)"/><use href="#s" transform="matrix(287.40 0 0 1443.4 1700.5 227.8)"/><use href="#s" transform="matrix(268.84 0 0 1159.9 1730.5 227.8)"/><use href="#s" transform="matrix(194.34 0 0 1312.0 1641.8 227.8)"/><use href="#s" transform="matrix(229.08 0 0 1312.8 1698.6 227.8)"/><use href="#s" transform="matrix(206.14 0 0 1155.3 1794.3 227.8)"/><use href="#s" transform="matrix(228.76 0 0 1121.9 1664.0 227.8)"/><use href="#s" transform="matrix(194.67 0 0 1218.1 1670.4 227.8)"/><use href="#s" transform="matrix(231.22 0 0 1043.4 1618.0 227.8)"/><use href="#s" transform="matrix(235.90 0 0 1253.8 1650.3 227.8)"/><use href="#s" transform="matrix(341.77 0 0 1297.5 1716.5 227.8)"/><use href="#s" transform="matrix(347.64 0 0 1355.1 1760.4 227.8)"/><use href="#s" transform="matrix(281.32 0 0 1327.3 1727.5 227.8)"/><use href="#s" transform="matrix(193.07 0 0 1102.4 1620.5 227.8)"/><use href="#s" transform="matrix(208.77 0 0 1178.9 1672.2 227.8)"/><use href="#s" transform="matrix(213.41 0 0 1132.9 1672.4 227.8)"/><use href="#s" transform="matrix(300.93 0 0 1156.7 1693.3 227.8)"/><use href="#s" transform="matrix(284.93 0 0 1309.6 1690.6 227.8)"/><use href="#s" transform="matrix(211.34 0 0 1183.6 1618.0 227.8)"/><use href="#s" transform="matrix(182.76 0 0 1296.7 1718.8 227.8)"/><use href="#s" transform="matrix(221.58 0 0 1231.5 1720.8 227.8)"/><use href="#s" transform="matrix(233.46 0 0 1196.0 1686.4 227.8)"/><use href="#s" transform="matrix(183.76 0 0 1275.3 1701.0 227.8)"/><use href="#s" transform="matrix(332.66 0 0 1427.3 1771.3 227.8)"/><use href="#s" transform="matrix(215.87 0 0 1164.4 1685.1 227.8)"/><use href="#s" transform="matrix(204.12 0 0 1069.5 1694.3 227.8)"/><use href="#s" transform="matrix(308.87 0 0 1254.6 1646.9 227.8)"/><use href="#s" transform="matrix(295.55 0 0 1283.9 1814.0 227.8)"/><use href="#s" transform="matrix(230.86 0 0 1255.6 1694.4 227.8)"/><use href="#s" transform="matrix(209.41 0 0 1158.8 1677.0 227.8)"/><use href="#s" transform="matrix(266.65 0 0 1373.0 1733.0 227.8)"/><use href="#s" transform="matrix(223.87 0 0 1328.7 1612.7 227.8)"/><use href="#s" transform="matrix(369.43 0 0 1422.4 1691.7 227.8)"/><use href="#s" transform="matrix(260.79 0 0 1201.2 1789.0 227.8)"/><use href="#s" transform="matrix(284.41 0 0 1230.8 1691.6 227.8)"/><use href="#s" transform="matrix(243.74 0 0 1158.2 1713.1 227.8)"/><use href="#s" transform="matrix(255.32 0 0 1277.9 1647.1 227.8)"/><use href="#s" transform="matrix(191.08 0 0 1172.0 1710.9 227.8)"/><use href="#s" transform="matrix(202.58 0 0 1199.9 1602.4 227.8)"/><use href="#s" transform="matrix(219.37 0 0 1167.2 1705.7 227.8)"/><use href="#s" transform="matrix(258.26 0 0 1328.3 1730.1 227.8)"/><use href="#s" transform="matrix(284.59 0 0 1242.4 1702.2 227.8)"/><use href="#s" transform="matrix(241.81 0 0 1366.4 1702.1 227.8)"/><use href="#s" transform="matrix(178.64 0 0 1229.7 1765.0 227.8)"/><use href="#s" transform="matrix(230.28 0 0 1414.1 1713.0 227.8)"/><use href="#s" transform="matrix(300.40 0 0 1212.0 1771.9 227.8)"/><use href="#s" transform="matrix(185.47 0 0 1347.4 1667.4 227.8)"/><use href="#s" transform="matrix(255.17 0 0 1399.9 1730.5 227.8)"/><use href="#s" transform="matrix(290.77 0 0 1256.3 1712.3 227.8)"/><use href="#s" transform="matrix(230.93 0 0 1146.2 1703.5 227.8)"/><use href="#s" transform="matrix(200.22 0 0 1190.3 1659.0 227.8)"/><use href="#s" transform="matrix(244.49 0 0 1184.2 1710.3 227.8)"/><use href="#s" transform="matrix(205.30 0 0 1257.0 1686.5 227.8)"/><use href="#s" transform="matrix(210.23 0 0 1175.3 1779.0 227.8)"/><use href="#s" transform="matrix(348.30 0 0 1318.6 1736.7 227.8)"/><use href="#s" transform="matrix(232.97 0 0 1199.8 1741.0 227.8)"/><use href="#s" transform="matrix(239.73 0 0 1240.9 1631.5 227.8)"/><use href="#s" transform="matrix(261.84 0 0 1226.4 1721.5 227.8)"/><use href="#s" transform="matrix(300.47 0 0 1339.1 1716.9 227.8)"/><use href="#s" transform="matrix(324.87 0 0 1293.1 1692.8 227.8)"/><use href="#s" transform="matrix(225.19 0 0 1111.9 1684.7 227.8)"/><use href="#s" transform="matrix(180.30 0 0 1204.7 1728.1 227.8)"/><use href="#s" transform="matrix(199.68 0 0 1252.8 1791.6 227.8)"/><use href="#s" transform="matrix(232.86 0 0 1202.7 1718.3 227.8)"/><use href="#s" transform="matrix(362.78 0 0 1337.7 1732.8 227.8)"/><use href="#s" transform="matrix(303.75 0 0 1513.7 1836.7 227.8)"/><use href="#s" transform="matrix(263.64 0 0 1491.5 1847.4 227.8)"/><use href="#s" transform="matrix(312.90 0 0 1243.2 1698.2 227.8)"/><use href="#s" transform="matrix(174.99 0 0 1384.0 1738.7 227.8)"/><use href="#s" transform="matrix(199.40 0 0 1100.9 1589.3 227.8)"/><use href="#s" transform="matrix(181.18 0 0 1247.9 1653.8 227.8)"/><use href="#s" transform="matrix(231.79 0 0 1161.9 1682.2 227.8)"/><use href="#s" transform="matrix(234.52 0 0 1295.8 1750.6 227.8)"/><use href="#s" transform="matrix(173.89 0 0 1151.1 1716.8 227.8)"/><use href="#s" transform="matrix(233.95 0 0 1161.8 1668.3 227.8)"/><use href="#s" transform="matrix(142.06 0 0 1092.0 1699.8 227.8)"/><use href="#s" transform="matrix(195.34 0 0 1246.1 1693.5 227.8)"/><use href="#s" transform="matrix(186.04 0 0 1225.6 1647.1 227.8)"/><use href="#s" transform="matrix(282.93 0 0 1161.6 1674.0 227.8)"/><use href="#s" transform="matrix(283.22 0 0 1340.1 1800.5 227.8)"/><use href="#s" transform="matrix(214.79 0 0 1190.6 1646.1 227.8)"/><use href="#s" transform="matrix(180.71 0 0 1307.1 1688.6 227.8)"/><use href="#s" transform="matrix(203.36 0 0 1099.5 1719.0 227.8)"/><use href="#s" transform="matrix(156.21 0 0 1162.6 1618.0 227.8)"/><use href="#s" transform="matrix(196.62 0 0 1291.9 1718.8 227.8)"/><use href="#s" transform="matrix(246.16 0 0 1363.2 1701.4 227.8)"/><use href="#s" transform="matrix(165.10 0 0 1193.4 1600.1 227.8)"/><use href="#s" transform="matrix(274.51 0 0 1258.2 1693.2 227.8)"/><use href="#s" transform="matrix(295.48 0 0 1316.7 1647.9 227.8)"/><use href="#s" transform="matrix(215.54 0 0 1351.9 1714.7 227.8)"/><use href="#s" transform="matrix(253.77 0 0 1152.9 1713.6 227.8)"/><use href="#s" transform="matrix(227.06 0 0 1272.8 1738.3 227.8)"/><use href="#s" transform="matrix(213.00 0 0 1230.0 1696.5 227.8)"/><use href="#s" transform="matrix(254.05 0 0 1265.3 1723.9 227.8)"/><use href="#s" transform="matrix(222.68 0 0 1147.0 1634.2 227.8)"/><use href="#s" transform="matrix(275.44 0 0 1283.2 1681.2 227.8)"/><use href="#s" transform="matrix(254.52 0 0 1170.7 1651.3 227.8)"/><use href="#s" transform="matrix(230.36 0 0 1283.0 1749.6 227.8)"/><use href="#s" transform="matrix(213.20 0 0 1173.5 1595.3 227.8)"/><use href="#s" transform="matrix(305.20 0 0 1312.6 1782.6 227.8)"/><use href="#s" transform="matrix(179.20 0 0 1294.3 1721.0 227.8)"/><use href="#s" transform="matrix(153.39 0 0 1169.9 1739.5 227.8)"/><use href="#s" transform="matrix(197.23 0 0 1341.8 1705.0 227.8)"/><use href="#s" transform="matrix(193.04 0 0 1036.8 1642.7 227.8)"/><use href="#s" transform="matrix(267.71 0 0 1292.5 1743.3 227.8)"/><use href="#s" transform="matrix(179.35 0 0 1156.2 1713.6 227.8)"/><use href="#s" transform="matrix(174.60 0 0 1168.4 1758.2 227.8)"/><use href="#s" transform="matrix(275.29 0 0 1290.6 1734.6 227.8)"/><use href="#s" transform="matrix(255.65 0 0 1242.8 1705.3 227.8)"/><use href="#s" transform="matrix(292.24 0 0 1218.8 1709.0 227.8)"/><use href="#s" transform="matrix(212.93 0 0 1137.4 1677.9 227.8)"/><use href="#s" transform="matrix(277.77 0 0 1312.1 1725.8 227.8)"/><use href="#s" transform="matrix(167.71 0 0 1104.6 1778.3 227.8)"/><use href="#s" transform="matrix(213.75 0 0 1220.3 1731.3 227.8)"/><use href="#s" transform="matrix(199.73 0 0 1216.6 1668.8 227.8)"/><use href="#s" transform="matrix(235.71 0 0 1221.6 1672.9 227.8)"/><use href="#s" transform="matrix(173.26 0 0 1110.2 1681.3 227.8)"/><use href="#s" transform="matrix(263.88 0 0 1163.9 1693.7 227.8)"/><use href="#s" transform="matrix(195.87 0 0 1143.7 1686.5 227.8)"/><use href="#s" transform="matrix(207.04 0 0 1269.4 1710.7 227.8)"/><use href="#s" transform="matrix(206.71 0 0 1288.4 1727.9 227.8)"/><use href="#s" transform="matrix(153.61 0 0 1041.4 1673.7 227.8)"/><use href="#s" transform="matrix(192.97 0 0 1285.1 1690.2 227.8)"/><use href="#s" transform="matrix(351.15 0 0 1276.7 1798.1 227.8)"/><use href="#s" transform="matrix(243.93 0 0 1225.2 1691.5 227.8)"/><use href="#s" transform="matrix(339.39 0 0 1286.4 1815.3 227.8)"/><use href="#s" transform="matrix(242.40 0 0 1241.8 1773.1 227.8)"/><use href="#s" transform="matrix(236.48 0 0 1315.5 1668.2 227.8)"/><use href="#s" transform="matrix(251.95 0 0 1338.0 1677.2 227.8)"/><use href="#s" transform="matrix(221.04 0 0 1214.7 1662.2 227.8)"/><use href="#s" transform="matrix(281.02 0 0 1312.3 1762.0 227.8)"/><use href="#s" transform="matrix(224.77 0 0 1257.8 1655.3 227.8)"/><use href="#s" transform="matrix(215.25 0 0 1238.8 1715.9 227.8)"/><use href="#s" transform="matrix(214.68 0 0 1197.0 1678.2 227.8)"/><use href="#s" transform="matrix(192.81 0 0 1225.8 1773.6 227.8)"/><use href="#s" transform="matrix(255.17 0 0 1407.0 1696.8 227.8)"/><use href="#s" transform="matrix(191.41 0 0 1206.4 1697.2 227.8)"/><use href="#s" transform="matrix(290.50 0 0 1383.0 1771.1 227.8)"/><use href="#s" transform="matrix(218.07 0 0 1118.2 1711.2 227.8)"/><use href="#s" transform="matrix(238.86 0 0 1269.0 1653.7 227.8)"/><use href="#s" transform="matrix(250.25 0 0 1240.9 1674.8 227.8)"/><use href="#s" transform="matrix(275.66 0 0 1250.9 1680.6 227.8)"/><use href="#s" transform="matrix(275.77 0 0 1450.5 1790.8 227.8)"/><use href="#s" transform="matrix(241.56 0 0 1184.0 1634.6 227.8)"/><use href="#s" transform="matrix(254.57 0 0 1115.0 1714.6 227.8)"/><use href="#s" transform="matrix(247.76 0 0 1146.4 1664.8 227.8)"/><use href="#s" transform="matrix(270.31 0 0 1295.3 1743.2 227.8)"/><use href="#s" transform="matrix(193.63 0 0 1137.2 1680.4 227.8)"/><use href="#s" transform="matrix(301.90 0 0 1283.0 1709.8 227.8)"/><use href="#s" transform="matrix(264.38 0 0 1225.4 1732.8 227.8)"/><use href="#s" transform="matrix(218.23 0 0 1231.5 1668.9 227.8)"/><use href="#s" transform="matrix(303.32 0 0 1245.4 1745.9 227.8)"/><use href="#s" transform="matrix(231.27 0 0 1110.8 1689.4 227.8)"/><use href="#s" transform="matrix(244.60 0 0 1275.7 1609.8 227.8)"/><use href="#s" transform="matrix(239.42 0 0 1116.8 1680.8 227.8)"/><use href="#s" transform="matrix(237.97 0 0 1107.0 1701.9 227.8)"/><use href="#s" transform="matrix(220.72 0 0 1229.6 1712.3 227.8)"/><use href="#s" transform="matrix(243.12 0 0 1096.7 1685.1 227.8)"/><use href="#s" transform="matrix(269.91 0 0 1249.4 1748.9 227.8)"/><use href="#s" transform="matrix(242.23 0 0 1156.2 1687.8 227.8)"/><use href="#s" transform="matrix(269.77 0 0 1240.4 1698.1 227.8)"/><use href="#s" transform="matrix(243.70 0 0 1132.8 1758.3 227.8)"/><use href="#s" transform="matrix(165.62 0 0 1118.7 1638.8 227.8)"/><use href="#s" transform="matrix(290.02 0 0 1335.0 1664.7 227.8)"/><use href="#s" transform="matrix(236.59 0 0 1209.0 1705.0 227.8)"/><use href="#s" transform="matrix(274.16 0 0 1130.7 1679.7 227.8)"/><use href="#s" transform="matrix(257.81 0 0 1175.2 1688.7 227.8)"/><use href="#s" transform="matrix(222.41 0 0 1347.0 1721.2 227.8)"/><use href="#s" transform="matrix(197.16 0 0 1348.4 1772.9 227.8)"/><use href="#s" transform="matrix(225.68 0 0 1077.3 1692.8 227.8)"/><use href="#s" transform="matrix(319.65 0 0 1314.2 1827.0 227.8)"/><use href="#s" transform="matrix(259.86 0 0 1165.4 1595.6 227.8)"/><use href="#s" transform="matrix(219.99 0 0 1310.9 1749.4 227.8)"/><use href="#s" transform="matrix(228.21 0 0 1246.5 1705.7 227.8)"/><use href="#s" transform="matrix(251.15 0 0 1405.5 1772.4 227.8)"/><use href="#s" transform="matrix(262.02 0 0 1084.7 1743.2 227.8)"/><use href="#s" transform="matrix(230.78 0 0 1284.0 1700.9 227.8)"/><use href="#s" transform="matrix(262.10 0 0 1254.0 1738.7 227.8)"/><use href="#s" transform="matrix(197.14 0 0 1084.2 1644.4 227.8)"/><use href="#s" transform="matrix(225.27 0 0 1149.6 1679.2 227.8)"/><use href="#s" transform="matrix(177.60 0 0 1214.3 1626.5 227.8)"/><use href="#s" transform="matrix(214.54 0 0 1141.1 1684.8 227.8)"/><use href="#s" transform="matrix(211.39 0 0 1261.3 1715.0 227.8)"/><use href="#s" transform="matrix(146.42 0 0 1147.6 1679.3 227.8)"/><use href="#s" transform="matrix(234.74 0 0 1228.9 1658.3 227.8)"/><use href="#s" transform="matrix(218.75 0 0 1157.5 1701.0 227.8)"/><use href="#s" transform="matrix(296.12 0 0 1275.1 1748.5 227.8)"/><use href="#s" transform="matrix(177.85 0 0 1129.6 1800.3 227.8)"/><use href="#s" transform="matrix(191.82 0 0 1113.4 1727.3 227.8)"/><use href="#s" transform="matrix(177.16 0 0 1181.4 1607.8 227.8)"/><use href="#s" transform="matrix(202.00 0 0 1168.0 1761.2 227.8)"/><use href="#s" transform="matrix(285.92 0 0 1178.8 1728.2 227.8)"/><use href="#s" transform="matrix(256.10 0 0 1390.7 1682.8 227.8)"/><use href="#s" transform="matrix(126.13 0 0 1101.1 1668.8 227.8)"/><use href="#s" transform="matrix(270.00 0 0 1079.2 1749.9 227.8)"/><use href="#s" transform="matrix(274.66 0 0 1356.3 1696.7 227.8)"/><use href="#s" transform="matrix(221.60 0 0 1299.5 1716.6 227.8)"/><use href="#s" transform="matrix(197.23 0 0 1112.4 1800.0 227.8)"/><use href="#s" transform="matrix(241.21 0 0 1129.1 1649.2 227.8)"/><use href="#s" transform="matrix(166.92 0 0 1150.8 1712.4 227.8)"/><use href="#s" transform="matrix(259.09 0 0 1132.0 1688.0 227.8)"/><use href="#s" transform="matrix(207.35 0 0 1158.6 1696.3 227.8)"/><use href="#s" transform="matrix(144.40 0 0 1087.4 1621.3 227.8)"/><use href="#s" transform="matrix(267.16 0 0 1370.9 1704.5 227.8)"/><use href="#s" transform="matrix(212.51 0 0 1040.5 1727.5 227.8)"/><use href="#s" transform="matrix(300.41 0 0 1307.1 1586.4 227.8)"/><use href="#s" transform="matrix(303.05 0 0 1247.9 1700.5 227.8)"/><use href="#s" transform="matrix(170.12 0 0 1125.2 1643.0 227.8)"/><use href="#s" transform="matrix(247.44 0 0 1235.1 1668.6 227.8)"/><use href="#s" transform="matrix(240.30 0 0 1296.4 1723.4 227.8)"/><use href="#s" transform="matrix(209.28 0 0 1187.1 1633.7 227.8)"/><use href="#s" transform="matrix(254.09 0 0 1250.1 1553.1 227.8)"/><use href="#s" transform="matrix(220.47 0 0 1100.0 1786.6 227.8)"/><use href="#s" transform="matrix(299.53 0 0 1352.0 1779.5 227.8)"/><use href="#s" transform="matrix(175.60 0 0 1136.0 1656.6 227.8)"/><use href="#s" transform="matrix(283.39 0 0 1142.0 1687.8 227.8)"/><use href="#s" transform="matrix(264.39 0 0 1319.3 1881.1 227.8)"/><use href="#s" transform="matrix(180.82 0 0 1164.3 1726.9 227.8)"/><use href="#s" transform="matrix(249.03 0 0 1235.7 1667.8 227.8)"/><use href="#s" transform="matrix(222.85 0 0 1294.6 1692.7 227.8)"/><use href="#s" transform="matrix(274.02 0 0 1157.0 1691.7 227.8)"/><use href="#s" transform="matrix(225.98 0 0 1071.2 1775.0 227.8)"/><use href="#s" transform="matrix(234.04 0 0 1137.6 1730.5 227.8)"/><use href="#s" transform="matrix(260.48 0 0 1265.6 1727.7 227.8)"/><use href="#s" transform="matrix(232.36 0 0 1208.3 1651.6 227.8)"/><use href="#s" transform="matrix(242.14 0 0 1272.1 1707.2 227.8)"/><use href="#s" transform="matrix(242.84 0 0 1257.3 1682.3 227.8)"/><use href="#s" transform="matrix(262.91 0 0 1227.3 1585.0 227.8)"/><use href="#s" transform="matrix(232.97 0 0 1144.6 1687.7 227.8)"/><use href="#s" transform="matrix(197.49 0 0 1251.3 1764.5 227.8)"/><use href="#s" transform="matrix(289.72 0 0 1374.3 1772.0 227.8)"/><use href="#s" transform="matrix(230.86 0 0 1034.7 1752.5 227.8)"/><use href="#s" transform="matrix(239.05 0 0 1204.4 1714.0 227.8)"/><use href="#s" transform="matrix(261.91 0 0 1267.4 1703.9 227.8)"/><use href="#s" transform="matrix(194.20 0 0 1095.9 1716.1 227.8)"/><use href="#s" transform="matrix(252.12 0 0 1307.2 1681.1 227.8)"/><use href="#s" transform="matrix(261.79 0 0 1188.7 1627.7 227.8)"/><use href="#s" transform="matrix(278.02 0 0 1263.7 1815.4 227.8)"/><use href="#s" transform="matrix(194.22 0 0 1247.0 1616.1 227.8)"/><use href="#s" transform="matrix(202.41 0 0 1206.9 1727.9 227.8)"/><use href="#s" transform="matrix(225.42 0 0 1257.4 1661.2 227.8)"/><use href="#s" transform="matrix(235.69 0 0 1145.2 1618.2 227.8)"/><use href="#s" transform="matrix(314.72 0 0 1317.4 1669.9 227.8)"/><use href="#s" transform="matrix(176.75 0 0 1202.0 1695.0 227.8)"/><use href="#s" transform="matrix(245.36 0 0 1270.6 1781.3 227.8)"/><use href="#s" transform="matrix(320.26 0 0 1279.6 1658.3 227.8)"/><use href="#s" transform="matrix(230.91 0 0 1238.7 1672.3 227.8)"/><use href="#s" transform="matrix(197.71 0 0 1252.7 1669.2 227.8)"/><use href="#s" transform="matrix(216.42 0 0 1358.5 1563.0 227.8)"/><use href="#s" transform="matrix(196.43 0 0 1166.0 1678.3 227.8)"/><use href="#s" transform="matrix(205.07 0 0 1225.9 1730.8 227.8)"/><use href="#s" transform="matrix(336.70 0 0 1159.0 1732.4 227.8)"/><use href="#s" transform="matrix(242.71 0 0 1320.6 1727.0 227.8)"/><use href="#s" transform="matrix(235.66 0 0 1292.4 1672.5 227.8)"/><use href="#s" transform="matrix(220.72 0 0 1245.1 1666.8 227.8)"/><use href="#s" transform="matrix(199.64 0 0 1231.4 1786.7 227.8)"/><use href="#s" transform="matrix(181.42 0 0 1290.8 1690.9 227.8)"/><use href="#s" transform="matrix(186.85 0 0 1207.5 1677.2 227.8)"/><use href="#s" transform="matrix(273.92 0 0 1186.3 1698.9 227.8)"/><use href="#s" transform="matrix(285.07 0 0 1196.0 1639.5 227.8)"/><use href="#s" transform="matrix(215.50 0 0 1256.2 1673.4 227.8)"/><use href="#s" transform="matrix(229.39 0 0 1158.3 1485.8 227.8)"/><use href="#s" transform="matrix(185.15 0 0 1169.2 1727.8 227.8)"/><use href="#s" transform="matrix(231.51 0 0 1172.1 1608.8 227.8)"/><use href="#s" transform="matrix(208.10 0 0 1116.0 1626.7 227.8)"/><use href="#s" transform="matrix(234.36 0 0 1382.4 1736.7 227.8)"/><use href="#s" transform="matrix(269.27 0 0 1250.6 1709.7 227.8)"/><use href="#s" transform="matrix(175.66 0 0 1064.0 1700.2 227.8)"/><use href="#s" transform="matrix(263.13 0 0 1300.5 1788.2 227.8)"/><use href="#s" transform="matrix(231.26 0 0 1232.3 1673.9 227.8)"/><use href="#s" transform="matrix(292.34 0 0 1182.7 1677.8 227.8)"/><use href="#s" transform="matrix(237.00 0 0 1194.8 1643.9 227.8)"/><use href="#s" transform="matrix(237.42 0 0 1102.3 1666.6 227.8)"/><use href="#s" transform="matrix(307.30 0 0 1318.8 1736.5 227.8)"/><use href="#s" transform="matrix(242.58 0 0 1192.7 1649.6 227.8)"/><use href="#s" transform="matrix(283.21 0 0 1434.7 1722.5 227.8)"/><use href="#s" transform="matrix(300.67 0 0 1288.0 1672.8 227.8)"/><use href="#s" transform="matrix(293.13 0 0 1242.7 1706.1 227.8)"/><use href="#s" transform="matrix(331.16 0 0 1360.5 1727.3 227.8)"/><use href="#s" transform="matrix(324.05 0 0 1294.6 1733.5 227.8)"/><use href="#s" transform="matrix(304.02 0 0 1225.9 1707.9 227.8)"/><use href="#s" transform="matrix(216.34 0 0 1287.8 1691.0 227.8)"/><use href="#s" transform="matrix(261.93 0 0 1355.5 1718.3 227.8)"/><use href="#s" transform="matrix(234.41 0 0 1151.4 1713.8 227.8)"/><use href="#s" transform="matrix(194.73 0 0 1226.7 1703.2 227.8)"/><use href="#s" transform="matrix(162.89 0 0 1224.0 1661.1 227.8)"/><use href="#s" transform="matrix(195.75 0 0 1263.8 1707.9 227.8)"/><use href="#s" transform="matrix(226.50 0 0 1302.0 1626.2 227.8)"/><use href="#s" transform="matrix(296.80 0 0 1379.3 1726.9 227.8)"/><use href="#s" transform="matrix(283.48 0 0 1379.2 1721.7 227.8)"/><use href="#s" transform="matrix(278.83 0 0 1276.4 1744.5 227.8)"/><use href="#s" transform="matrix(251.80 0 0 1230.6 1664.1 227.8)"/><use href="#s" transform="matrix(350.43 0 0 1275.1 1692.6 227.8)"/><use href="#s" transform="matrix(201.09 0 0 1157.2 1796.4 227.8)"/><use href="#s" transform="matrix(204.32 0 0 1275.0 1639.9 227.8)"/><use href="#s" transform="matrix(318.49 0 0 1341.7 1692.2 227.8)"/><use href="#s" transform="matrix(286.93 0 0 1199.4 1734.7 227.8)"/><use href="#s" transform="matrix(232.65 0 0 1316.0 1636.7 227.8)"/><use href="#s" transform="matrix(211.07 0 0 1064.8 1755.9 227.8)"/><use href="#s" transform="matrix(233.03 0 0 1060.5 1749.0 227.8)"/><use href="#s" transform="matrix(221.04 0 0 1294.5 1708.7 227.8)"/><use href="#s" transform="matrix(237.29 0 0 1251.1 1689.0 227.8)"/><use href="#s" transform="matrix(199.80 0 0 1044.6 1723.7 227.8)"/><use href="#s" transform="matrix(191.07 0 0 1141.6 1671.8 227.8)"/><use href="#s" transform="matrix(188.30 0 0 1167.2 1671.9 227.8)"/><use href="#s" transform="matrix(258.84 0 0 1103.5 1739.8 227.8)"/><use href="#s" transform="matrix(286.18 0 0 1253.3 1737.0 227.8)"/><use href="#s" transform="matrix(179.65 0 0 1209.1 1647.6 227.8)"/><use href="#s" transform="matrix(259.31 0 0 1112.8 1644.1 227.8)"/><use href="#s" transform="matrix(250.82 0 0 1165.0 1667.1 227.8)"/><use href="#s" transform="matrix(186.78 0 0 1131.8 1732.9 227.8)"/><use href="#s" transform="matrix(167.67 0 0 1129.0 1722.8 227.8)"/><use href="#s" transform="matrix(294.75 0 0 1345.6 1671.4 227.8)"/><use href="#s" transform="matrix(389.71 0 0 1347.3 1716.2 227.8)"/><use href="#s" transform="matrix(247.40 0 0 1177.5 1655.1 227.8)"/><use href="#s" transform="matrix(241.38 0 0 1203.7 1707.1 227.8)"/><use href="#s" transform="matrix(219.13 0 0 1138.0 1708.8 227.8)"/><use href="#s" transform="matrix(281.50 0 0 1229.5 1676.2 227.8)"/><use href="#s" transform="matrix(259.26 0 0 1270.0 1695.2 227.8)"/><use href="#s" transform="matrix(206.10 0 0 1209.2 1711.1 227.8)"/><use href="#s" transform="matrix(259.93 0 0 1580.6 1768.1 227.8)"/><use href="#s" transform="matrix(280.87 0 0 1303.0 1718.8 227.8)"/><use href="#s" transform="matrix(203.69 0 0 1298.3 1697.6 227.8)"/><use href="#s" transform="matrix(216.50 0 0 1180.0 1674.4 227.8)"/><use href="#s" transform="matrix(211.01 0 0 1192.0 1752.6 227.8)"/><use href="#s" transform="matrix(167.81 0 0 1172.8 1676.9 227.8)"/><use href="#s" transform="matrix(188.63 0 0 1098.3 1685.1 227.8)"/><use href="#s" transform="matrix(321.92 0 0 1273.8 1747.9 227.8)"/><use href="#s" transform="matrix(309.87 0 0 1311.8 1672.4 227.8)"/><use href="#s" transform="matrix(180.95 0 0 1312.0 1775.1 227.8)"/><use href="#s" transform="matrix(156.26 0 0 1109.0 1614.0 227.8)"/><use href="#s" transform="matrix(244.30 0 0 1214.5 1762.1 227.8)"/><use href="#s" transform="matrix(268.55 0 0 1341.3 1738.6 227.8)"/><use href="#s" transform="matrix(211.43 0 0 1148.5 1755.9 227.8)"/><use href="#s" transform="matrix(261.52 0 0 1242.4 1768.6 227.8)"/><use href="#s" transform="matrix(220.67 0 0 1194.6 1710.1 227.8)"/><use href="#s" transform="matrix(262.80 0 0 1249.5 1704.6 227.8)"/><use href="#s" transform="matrix(235.95 0 0 1198.9 1592.1 227.8)"/><use href="#s" transform="matrix(240.36 0 0 1189.4 1758.7 227.8)"/><use href="#s" transform="matrix(344.59 0 0 1335.0 1669.2 227.8)"/><use href="#s" transform="matrix(247.95 0 0 1283.4 1675.7 227.8)"/><use href="#s" transform="matrix(233.83 0 0 1144.5 1664.0 227.8)"/><use href="#s" transform="matrix(194.37 0 0 1117.8 1748.0 227.8)"/><use href="#s" transform="matrix(223.90 0 0 1211.9 1599.2 227.8)"/><use href="#s" transform="matrix(280.41 0 0 1135.3 1724.9 227.8)"/><use href="#s" transform="matrix(311.25 0 0 1317.2 1695.1 227.8)"/><use href="#s" transform="matrix(230.31 0 0 1138.4 1619.3 227.8)"/><use href="#s" transform="matrix(291.90 0 0 1298.3 1662.4 227.8)"/><use href="#s" transform="matrix(226.23 0 0 1133.0 1743.5 227.8)"/><use href="#s" transform="matrix(238.12 0 0 1247.3 1670.1 227.8)"/><use href="#s" transform="matrix(207.71 0 0 1146.6 1725.4 227.8)"/><use href="#s" transform="matrix(264.26 0 0 1330.9 1657.4 227.8)"/><use href="#s" transform="matrix(224.06 0 0 1169.1 1704.9 227.8)"/><use href="#s" transform="matrix(203.10 0 0 1234.6 1721.1 227.8)"/><use href="#s" transform="matrix(209.58 0 0 1289.0 1714.8 227.8)"/><use href="#s" transform="matrix(280.30 0 0 1342.3 1698.2 227.8)"/><use href="#s" transform="matrix(278.69 0 0 1385.8 1827.1 227.8)"/><use href="#s" transform="matrix(185.04 0 0 1063.1 1695.8 227.8)"/><use href="#s" transform="matrix(250.27 0 0 1459.4 1706.8 227.8)"/><use href="#s" transform="matrix(273.66 0 0 1253.5 1679.8 227.8)"/><use href="#s" transform="matrix(238.32 0 0 1280.4 1795.1 227.8)"/><use href="#s" transform="matrix(185.34 0 0 1010.5 1699.9 227.8)"/><use href="#s" transform="matrix(261.17 0 0 1358.2 1722.9 227.8)"/><use href="#s" transform="matrix(154.35 0 0 1281.1 1727.5 227.8)"/><use href="#s" transform="matrix(242.52 0 0 1142.0 1712.1 227.8)"/><use href="#s" transform="matrix(191.46 0 0 1159.1 1693.0 227.8)"/><use href="#s" transform="matrix(223.89 0 0 1218.1 1633.0 227.8)"/><use href="#s" transform="matrix(229.62 0 0 1164.0 1693.0 227.8)"/><use href="#s" transform="matrix(234.20 0 0 1237.0 1802.5 227.8)"/><use href="#s" transform="matrix(162.94 0 0 1090.7 1694.1 227.8)"/><use href="#s" transform="matrix(214.86 0 0 1163.0 1661.6 227.8)"/><use href="#s" transform="matrix(218.37 0 0 1204.1 1720.0 227.8)"/><use href="#s" transform="matrix(204.75 0 0 1247.6 1633.0 227.8)"/><use href="#s" transform="matrix(259.18 0 0 1351.5 1671.4 227.8)"/><use href="#s" transform="matrix(256.87 0 0 1342.0 1703.7 227.8)"/><use href="#s" transform="matrix(253.25 0 0 1215.8 1630.4 227.8)"/><use href="#s" transform="matrix(224.07 0 0 1230.1 1671.0 227.8)"/><use href="#s" transform="matrix(353.44 0 0 1210.9 1767.2 227.8)"/><use href="#s" transform="matrix(265.02 0 0 1161.4 1728.6 227.8)"/><use href="#s" transform="matrix(249.42 0 0 1332.0 1754.7 227.8)"/><use href="#s" transform="matrix(255.03 0 0 1227.7 1774.6 227.8)"/><use href="#s" transform="matrix(228.07 0 0 1029.5 1664.8 227.8)"/><use href="#s" transform="matrix(242.84 0 0 1306.7 1701.5 227.8)"/><use href="#s" transform="matrix(208.51 0 0 1212.6 1678.7 227.8)"/><use href="#s" transform="matrix(230.03 0 0 1242.3 1646.2 227.8)"/><use href="#s" transform="matrix(232.84 0 0 1153.7 1704.7 227.8)"/><use href="#s" transform="matrix(297.96 0 0 1329.7 1631.6 227.8)"/><use href="#s" transform="matrix(331.34 0 0 1330.6 1775.0 227.8)"/><use href="#s" transform="matrix(245.57 0 0 1158.2 1687.7 227.8)"/><use href="#s" transform="matrix(187.89 0 0 1144.0 1710.7 227.8)"/><use href="#s" transform="matrix(187.47 0 0 1021.0 1592.9 227.8)"/><use href="#s" transform="matrix(261.26 0 0 1524.2 1782.6 227.8)"/><use href="#s" transform="matrix(290.14 0 0 1520.5 1829.8 227.8)"/><use href="#s" transform="matrix(336.73 0 0 1515.7 1818.2 227.8)"/><use href="#s" transform="matrix(374.34 0 0 1537.6 1749.4 227.8)"/><use href="#s" transform="matrix(340.32 0 0 1461.9 1656.4 227.8)"/><use href="#s" transform="matrix(230.01 0 0 1482.9 1772.1 227.8)"/><use href="#s" transform="matrix(213.32 0 0 1516.9 1874.8 227.8)"/><use href="#s" transform="matrix(258.73 0 0 1577.5 1749.8 227.8)"/><use href="#s" transform="matrix(307.38 0 0 1459.3 1759.1 227.8)"/><use href="#s" transform="matrix(338.28 0 0 1504.4 1693.0 227.8)"/><use href="#s" transform="matrix(375.39 0 0 1361.3 1707.2 227.8)"/><use href="#s" transform="matrix(341.09 0 0 1449.1 1778.6 227.8)"/><use href="#s" transform="matrix(287.98 0 0 1492.7 1837.2 227.8)"/><use href="#s" transform="matrix(353.16 0 0 1496.0 1828.3 227.8)"/><use href="#s" transform="matrix(319.63 0 0 1512.5 1779.1 227.8)"/><use href="#s" transform="matrix(172.02 0 0 1587.4 1871.1 227.8)"/><use href="#s" transform="matrix(274.53 0 0 1496.1 1847.4 227.8)"/><use href="#s" transform="matrix(249.29 0 0 1579.4 1784.4 227.8)"/><use href="#s" transform="matrix(277.45 0 0 1589.4 1779.8 227.8)"/><use href="#s" transform="matrix(310.75 0 0 1472.2 1727.0 227.8)"/><use href="#s" transform="matrix(240.62 0 0 1470.8 1889.3 227.8)"/><use href="#s" transform="matrix(216.50 0 0 1571.5 1951.0 227.8)"/><use href="#s" transform="matrix(314.42 0 0 1477.3 1847.4 227.8)"/><use href="#s" transform="matrix(282.89 0 0 1498.8 1787.8 227.8)"/><use href="#s" transform="matrix(253.07 0 0 1537.6 1873.0 227.8)"/><use href="#s" transform="matrix(236.04 0 0 1564.4 1723.2 227.8)"/><use href="#s" transform="matrix(281.47 0 0 1533.1 1810.5 227.8)"/><use href="#s" transform="matrix(288.04 0 0 1468.5 1823.5 227.8)"/><use href="#s" transform="matrix(298.05 0 0 1495.8 1835.9 227.8)"/><use href="#s" transform="matrix(282.01 0 0 1463.4 1830.4 227.8)"/><use href="#s" transform="matrix(280.54 0 0 1561.6 1791.4 227.8)"/><use href="#s" transform="matrix(366.96 0 0 1461.6 1794.6 227.8)"/><use href="#s" transform="matrix(273.53 0 0 1520.6 1744.1 227.8)"/><use href="#s" transform="matrix(236.87 0 0 1512.7 1827.9 227.8)"/><use href="#s" transform="matrix(295.24 0 0 1543.6 1853.5 227.8)"/><use href="#s" transform="matrix(272.43 0 0 1515.4 1827.5 227.8)"/><use href="#s" transform="matrix(226.07 0 0 1653.9 1929.0 227.8)"/><use href="#s" transform="matrix(334.66 0 0 1441.3 1836.5 227.8)"/><use href="#s" transform="matrix(254.80 0 0 1497.1 1909.5 227.8)"/><use href="#s" transform="matrix(288.80 0 0 1514.8 1790.1 227.8)"/><use href="#s" transform="matrix(383.42 0 0 1433.1 1792.2 227.8)"/><use href="#s" transform="matrix(266.51 0 0 1560.0 1790.2 227.8)"/><use href="#s" transform="matrix(316.41 0 0 1504.5 1846.6 227.8)"/><use href="#s" transform="matrix(396.67 0 0 1537.6 1757.3 227.8)"/><use href="#s" transform="matrix(384.35 0 0 1558.9 1786.8 227.8)"/><use href="#s" transform="matrix(246.39 0 0 1510.2 1805.1 227.8)"/><use href="#s" transform="matrix(323.09 0 0 1498.0 1801.3 227.8)"/><use href="#s" transform="matrix(235.63 0 0 1581.8 1890.8 227.8)"/><use href="#s" transform="matrix(296.27 0 0 1504.9 1824.1 227.8)"/><use href="#s" transform="matrix(235.21 0 0 1560.1 1921.8 227.8)"/><use href="#s" transform="matrix(332.28 0 0 1475.2 1812.4 227.8)"/><use href="#s" transform="matrix(224.26 0 0 1600.6 1801.7 227.8)"/><use href="#s" transform="matrix(274.11 0 0 1576.1 1801.3 227.8)"/><use href="#s" transform="matrix(201.29 0 0 1594.9 1790.7 227.8)"/><use href="#s" transform="matrix(214.72 0 0 1620.7 1872.8 227.8)"/><use href="#s" transform="matrix(505.76 0 0 1343.3 1730.9 227.8)"/><use href="#s" transform="matrix(357.34 0 0 1474.2 1778.9 227.8)"/><use href="#s" transform="matrix(262.95 0 0 1532.4 1754.0 227.8)"/><use href="#s" transform="matrix(316.86 0 0 1514.7 1926.9 227.8)"/><use href="#s" transform="matrix(313.18 0 0 1531.9 1786.0 227.8)"/><use href="#s" transform="matrix(369.83 0 0 1420.1 1833.3 227.8)"/><use href="#s" transform="matrix(175.80 0 0 1582.8 1854.0 227.8)"/><use href="#s" transform="matrix(340.98 0 0 1451.9 1802.5 227.8)"/><use href="#s" transform="matrix(239.29 0 0 1512.5 1818.7 227.8)"/><use href="#s" transform="matrix(237.31 0 0 1529.2 1851.2 227.8)"/><use href="#s" transform="matrix(173.18 0 0 1601.3 1906.3 227.8)"/><use href="#s" transform="matrix(255.64 0 0 1463.7 1788.7 227.8)"/><use href="#s" transform="matrix(369.66 0 0 1507.1 1734.4 227.8)"/><use href="#s" transform="matrix(338.56 0 0 1453.0 1715.0 227.8)"/><use href="#s" transform="matrix(347.02 0 0 1463.2 1858.6 227.8)"/><use href="#s" transform="matrix(384.69 0 0 1495.1 1720.8 227.8)"/><use href="#s" transform="matrix(254.81 0 0 1663.5 1743.2 227.8)"/><use href="#s" transform="matrix(269.59 0 0 1530.4 1853.4 227.8)"/><use href="#s" transform="matrix(364.44 0 0 1430.4 1759.7 227.8)"/><use href="#s" transform="matrix(193.52 0 0 1607.2 1763.3 227.8)"/><use href="#s" transform="matrix(270.97 0 0 1576.2 1806.4 227.8)"/><use href="#s" transform="matrix(413.73 0 0 1491.2 1743.0 227.8)"/><use href="#s" transform="matrix(330.34 0 0 1450.0 1765.5 227.8)"/><use href="#s" transform="matrix(337.51 0 0 1527.1 1712.3 227.8)"/><use href="#s" transform="matrix(346.36 0 0 1559.7 1828.0 227.8)"/><use href="#s" transform="matrix(267.25 0 0 1564.3 1823.4 227.8)"/><use href="#s" transform="matrix(326.58 0 0 1463.7 1693.4 227.8)"/><use href="#s" transform="matrix(299.40 0 0 1534.1 1794.0 227.8)"/><use href="#s" transform="matrix(327.46 0 0 1415.2 1884.8 227.8)"/><use href="#s" transform="matrix(302.97 0 0 1510.4 1895.7 227.8)"/><use href="#s" transform="matrix(302.05 0 0 1529.3 1689.9 227.8)"/><use href="#s" transform="matrix(264.83 0 0 1589.7 1850.7 227.8)"/><use href="#s" transform="matrix(237.59 0 0 1574.8 1848.7 227.8)"/><use href="#s" transform="matrix(298.72 0 0 1489.4 1814.1 227.8)"/><use href="#s" transform="matrix(351.55 0 0 1531.9 1720.7 227.8)"/><use href="#s" transform="matrix(272.23 0 0 1465.8 1832.6 227.8)"/><use href="#s" transform="matrix(318.25 0 0 1411.1 1866.2 227.8)"/><use href="#s" transform="matrix(204.12 0 0 1521.1 1896.9 227.8)"/><use href="#s" transform="matrix(192.70 0 0 1577.1 1893.5 227.8)"/><use href="#s" transform="matrix(359.91 0 0 1482.9 1730.8 227.8)"/><use href="#s" transform="matrix(305.78 0 0 1508.5 1765.9 227.8)"/><use href="#s" transform="matrix(198.82 0 0 1629.9 1894.0 227.8)"/><use href="#s" transform="matrix(262.97 0 0 1521.0 1829.7 227.8)"/><use href="#s" transform="matrix(299.57 0 0 1491.4 1724.5 227.8)"/><use href="#s" transform="matrix(292.58 0 0 1504.0 1813.9 227.8)"/><use href="#s" transform="matrix(319.13 0 0 1489.6 1832.0 227.8)"/><use href="#s" transform="matrix(357.22 0 0 1481.0 1862.6 227.8)"/><use href="#s" transform="matrix(322.40 0 0 1489.9 1782.2 227.8)"/><use href="#s" transform="matrix(266.53 0 0 1558.6 1763.2 227.8)"/><use href="#s" transform="matrix(433.43 0 0 1451.6 1767.4 227.8)"/><use href="#s" transform="matrix(276.70 0 0 1492.0 1842.1 227.8)"/><use href="#s" transform="matrix(280.81 0 0 1479.7 1804.8 227.8)"/><use href="#s" transform="matrix(219.89 0 0 1592.3 1869.3 227.8)"/><use href="#s" transform="matrix(241.70 0 0 1602.6 1789.7 227.8)"/><use href="#s" transform="matrix(302.33 0 0 1529.1 1940.2 227.8)"/><use href="#s" transform="matrix(332.14 0 0 1492.9 1749.1 227.8)"/><use href="#s" transform="matrix(290.57 0 0 1624.5 1777.9 227.8)"/><use href="#s" transform="matrix(328.21 0 0 1498.5 1782.0 227.8)"/><use href="#s" transform="matrix(329.06 0 0 1564.7 1757.7 227.8)"/><use href="#s" transform="matrix(242.36 0 0 1547.0 1893.1 227.8)"/><use href="#s" transform="matrix(431.69 0 0 1488.9 1761.7 227.8)"/><use href="#s" transform="matrix(235.57 0 0 1603.6 1864.2 227.8)"/><use href="#s" transform="matrix(343.83 0 0 1490.2 1806.7 227.8)"/><use href="#s" transform="matrix(349.56 0 0 1416.2 1794.6 227.8)"/><use href="#s" transform="matrix(280.84 0 0 1564.6 1858.3 227.8)"/><use href="#s" transform="matrix(240.26 0 0 1551.8 1778.2 227.8)"/><use href="#s" transform="matrix(441.78 0 0 1451.2 1749.7 227.8)"/><use href="#s" transform="matrix(305.38 0 0 1460.6 1779.1 227.8)"/><use href="#s" transform="matrix(375.14 0 0 1445.5 1792.1 227.8)"/><use href="#s" transform="matrix(313.86 0 0 1496.5 1805.2 227.8)"/><use href="#s" transform="matrix(342.62 0 0 1495.2 1788.9 227.8)"/><use href="#s" transform="matrix(411.36 0 0 1413.5 1716.2 227.8)"/><use href="#s" transform="matrix(284.89 0 0 1507.6 1804.9 227.8)"/><use href="#s" transform="matrix(293.81 0 0 1530.5 1788.8 227.8)"/><use href="#s" transform="matrix(316.42 0 0 1555.7 1761.4 227.8)"/><use href="#s" transform="matrix(256.96 0 0 1534.1 1835.6 227.8)"/><use href="#s" transform="matrix(315.61 0 0 1473.5 1829.7 227.8)"/><use href="#s" transform="matrix(247.05 0 0 1460.7 1869.1 227.8)"/><use href="#s" transform="matrix(251.80 0 0 1444.6 1793.0 227.8)"/><use href="#s" transform="matrix(301.37 0 0 1580.2 1775.8 227.8)"/><use href="#s" transform="matrix(447.61 0 0 1405.2 1686.6 227.8)"/><use href="#s" transform="matrix(241.65 0 0 1512.5 1839.6 227.8)"/><use href="#s" transform="matrix(273.59 0 0 1422.7 1789.0 227.8)"/><use href="#s" transform="matrix(251.05 0 0 1524.6 1878.8 227.8)"/><use href="#s" transform="matrix(249.17 0 0 1482.9 1827.1 227.8)"/><use href="#s" transform="matrix(427.02 0 0 1529.0 1811.4 227.8)"/><use href="#s" transform="matrix(403.68 0 0 1466.9 1825.0 227.8)"/><use href="#s" transform="matrix(338.71 0 0 1511.1 1765.0 227.8)"/><use href="#s" transform="matrix(357.21 0 0 1481.7 1836.9 227.8)"/><use href="#s" transform="matrix(311.64 0 0 1486.8 1750.7 227.8)"/><use href="#s" transform="matrix(362.93 0 0 1460.7 1734.8 227.8)"/><use href="#s" transform="matrix(234.57 0 0 1514.6 1959.5 227.8)"/><use href="#s" transform="matrix(265.23 0 0 1477.1 1797.6 227.8)"/><use href="#s" transform="matrix(259.93 0 0 1569.7 1801.2 227.8)"/><use href="#s" transform="matrix(367.28 0 0 1519.4 1706.5 227.8)"/><use href="#s" transform="matrix(311.74 0 0 1376.0 1891.8 227.8)"/><use href="#s" transform="matrix(227.77 0 0 1520.1 1850.5 227.8)"/><use href="#s" transform="matrix(345.35 0 0 1459.9 1709.0 227.8)"/><use href="#s" transform="matrix(267.01 0 0 1516.7 1836.7 227.8)"/><use href="#s" transform="matrix(330.98 0 0 1453.4 1730.5 227.8)"/><use href="#s" transform="matrix(447.68 0 0 1464.0 1768.0 227.8)"/><use href="#s" transform="matrix(267.33 0 0 1520.9 1897.9 227.8)"/><use href="#s" transform="matrix(242.84 0 0 1618.8 1889.8 227.8)"/><use href="#s" transform="matrix(318.01 0 0 1503.4 1808.1 227.8)"/><use href="#s" transform="matrix(281.59 0 0 1523.8 1799.7 227.8)"/><use href="#s" transform="matrix(366.18 0 0 1545.0 1824.1 227.8)"/><use href="#s" transform="matrix(332.80 0 0 1484.8 1762.7 227.8)"/><use href="#s" transform="matrix(294.43 0 0 1451.6 1779.6 227.8)"/><use href="#s" transform="matrix(272.33 0 0 1493.6 1869.7 227.8)"/><use href="#s" transform="matrix(297.26 0 0 1506.0 1827.8 227.8)"/><use href="#s" transform="matrix(261.71 0 0 1527.8 1789.7 227.8)"/><use href="#s" transform="matrix(332.08 0 0 1516.1 1844.5 227.8)"/><use href="#s" transform="matrix(244.36 0 0 1554.9 1843.7 227.8)"/><use href="#s" transform="matrix(383.42 0 0 1489.3 1731.5 227.8)"/><use href="#s" transform="matrix(307.29 0 0 1548.8 1873.1 227.8)"/><use href="#s" transform="matrix(311.49 0 0 1533.4 1812.9 227.8)"/><use href="#s" transform="matrix(207.42 0 0 1642.5 1955.6 227.8)"/><use href="#s" transform="matrix(326.21 0 0 1513.5 1812.6 227.8)"/><use href="#s" transform="matrix(428.61 0 0 1454.9 1666.8 227.8)"/><use href="#s" transform="matrix(246.40 0 0 1597.1 1726.3 227.8)"/><use href="#s" transform="matrix(317.01 0 0 1575.8 1753.7 227.8)"/><use href="#s" transform="matrix(279.73 0 0 1595.8 1864.2 227.8)"/><use href="#s" transform="matrix(301.50 0 0 1484.0 1857.3 227.8)"/><use href="#s" transform="matrix(277.78 0 0 1527.4 1831.4 227.8)"/><use href="#s" transform="matrix(335.09 0 0 1443.6 1797.8 227.8)"/><use href="#s" transform="matrix(239.52 0 0 1614.4 1875.7 227.8)"/><use href="#s" transform="matrix(349.73 0 0 1539.2 1749.9 227.8)"/><use href="#s" transform="matrix(265.35 0 0 1520.4 1791.6 227.8)"/><use href="#s" transform="matrix(278.92 0 0 1493.7 1848.2 227.8)"/><use href="#s" transform="matrix(323.11 0 0 1492.5 1829.2 227.8)"/><use href="#s" transform="matrix(297.50 0 0 1477.1 1831.9 227.8)"/><use href="#s" transform="matrix(289.31 0 0 1415.8 1885.9 227.8)"/><use href="#s" transform="matrix(218.80 0 0 1562.8 1852.2 227.8)"/><use href="#s" transform="matrix(282.52 0 0 1575.5 1739.2 227.8)"/><use href="#s" transform="matrix(272.11 0 0 1522.6 1815.5 227.8)"/><use href="#s" transform="matrix(343.08 0 0 1488.3 1756.2 227.8)"/><use href="#s" transform="matrix(379.43 0 0 1512.6 1771.2 227.8)"/><use href="#s" transform="matrix(266.78 0 0 1499.7 1766.0 227.8)"/><use href="#s" transform="matrix(301.20 0 0 1518.3 1783.6 227.8)"/><use href="#s" transform="matrix(255.23 0 0 1540.0 1874.8 227.8)"/><use href="#s" transform="matrix(189.73 0 0 1610.7 1819.1 227.8)"/><use href="#s" transform="matrix(446.96 0 0 1371.0 1749.9 227.8)"/><use href="#s" transform="matrix(238.24 0 0 1562.4 1866.4 227.8)"/><use href="#s" transform="matrix(376.29 0 0 1480.6 1779.3 227.8)"/><use href="#s" transform="matrix(229.01 0 0 1645.1 1767.7 227.8)"/><use href="#s" transform="matrix(268.78 0 0 1550.6 1818.5 227.8)"/><use href="#s" transform="matrix(261.60 0 0 1569.6 1714.3 227.8)"/><use href="#s" transform="matrix(335.04 0 0 1468.1 1837.3 227.8)"/><use href="#s" transform="matrix(285.89 0 0 1486.8 1868.4 227.8)"/><use href="#s" transform="matrix(266.63 0 0 1602.4 1818.7 227.8)"/><use href="#s" transform="matrix(293.60 0 0 1526.8 1884.9 227.8)"/><use href="#s" transform="matrix(256.06 0 0 1497.2 1802.4 227.8)"/><use href="#s" transform="matrix(206.41 0 0 1561.1 1928.6 227.8)"/><use href="#s" transform="matrix(312.94 0 0 1501.2 1825.5 227.8)"/><use href="#s" transform="matrix(252.90 0 0 1585.0 1871.1 227.8)"/><use href="#s" transform="matrix(332.29 0 0 1435.1 1827.8 227.8)"/><use href="#s" transform="matrix(337.81 0 0 1455.8 1841.1 227.8)"/><use href="#s" transform="matrix(384.78 0 0 1434.8 1697.6 227.8)"/><use href="#s" transform="matrix(282.92 0 0 1636.9 1718.2 227.8)"/><use href="#s" transform="matrix(239.93 0 0 1557.9 1781.1 227.8)"/><use href="#s" transform="matrix(215.93 0 0 1563.9 1817.0 227.8)"/><use href="#s" transform="matrix(185.81 0 0 1565.1 1862.7 227.8)"/><use href="#s" transform="matrix(397.82 0 0 1414.2 1894.2 227.8)"/><use href="#s" transform="matrix(384.13 0 0 1384.3 1744.9 227.8)"/><use href="#s" transform="matrix(259.26 0 0 1577.0 1829.6 227.8)"/><use href="#s" transform="matrix(339.17 0 0 1481.0 1840.3 227.8)"/><use href="#s" transform="matrix(188.23 0 0 1615.4 1830.4 227.8)"/><use href="#s" transform="matrix(322.79 0 0 1479.3 1802.5 227.8)"/><use href="#s" transform="matrix(380.23 0 0 1451.3 1738.0 227.8)"/><use href="#s" transform="matrix(369.78 0 0 1478.9 1793.2 227.8)"/><use href="#s" transform="matrix(423.60 0 0 1444.5 1805.8 227.8)"/><use href="#s" transform="matrix(358.64 0 0 1486.4 1755.1 227.8)"/><use href="#s" transform="matrix(258.69 0 0 1531.6 1903.6 227.8)"/><use href="#s" transform="matrix(382.50 0 0 1530.1 1754.4 227.8)"/><use href="#s" transform="matrix(362.56 0 0 1429.9 1776.2 227.8)"/><use href="#s" transform="matrix(282.01 0 0 1439.8 1843.3 227.8)"/><use href="#s" transform="matrix(298.48 0 0 1592.4 1850.0 227.8)"/><use href="#s" transform="matrix(235.46 0 0 1535.4 1875.1 227.8)"/><use href="#s" transform="matrix(348.25 0 0 1500.8 1803.6 227.8)"/><use href="#s" transform="matrix(341.68 0 0 1534.4 1709.3 227.8)"/><use href="#s" transform="matrix(405.82 0 0 1443.2 1771.9 227.8)"/><use href="#s" transform="matrix(315.17 0 0 1453.6 1765.2 227.8)"/><use href="#s" transform="matrix(299.23 0 0 1424.0 1848.0 227.8)"/><use href="#s" transform="matrix(233.45 0 0 1529.3 1821.1 227.8)"/><use href="#s" transform="matrix(361.95 0 0 1533.9 1691.4 227.8)"/><use href="#s" transform="matrix(301.09 0 0 1562.6 1817.6 227.8)"/><use href="#s" transform="matrix(273.19 0 0 1575.4 1756.0 227.8)"/><use href="#s" transform="matrix(279.65 0 0 1501.5 1876.8 227.8)"/><use href="#s" transform="matrix(317.23 0 0 1560.0 1853.7 227.8)"/><use href="#s" transform="matrix(372.48 0 0 1440.5 1746.3 227.8)"/><use href="#s" transform="matrix(477.46 0 0 1463.1 1640.0 227.8)"/><use href="#s" transform="matrix(331.18 0 0 1507.6 1846.5 227.8)"/><use href="#s" transform="matrix(342.16 0 0 1498.2 1792.4 227.8)"/><use href="#s" transform="matrix(298.44 0 0 1435.2 1815.4 227.8)"/><use href="#s" transform="matrix(742.44 0 0 1442.4 1948.2 227.8)"/><use href="#s" transform="matrix(636.38 0 0 1400.0 1871.7 227.8)"/><use href="#s" transform="matrix(593.96 0 0 1357.6 1803.6 227.8)"/><use href="#s" transform="matrix(514.00 0 0 1357.6 1756.5 227.8)"/><use href="#s" transform="matrix(477.29 0 0 1315.2 1716.7 227.8)"/><use href="#s" transform="matrix(445.47 0 0 1400.0 1710.8 227.8)"/><use href="#s" transform="matrix(290.52 0 0 1637.6 1837.0 227.8)"/><use href="#s" transform="matrix(303.73 0 0 1663.1 1850.4 227.8)"/><use href="#s" transform="matrix(281.35 0 0 1688.5 1863.7 227.8)"/><use href="#s" transform="matrix(296.98 0 0 1705.5 1877.1 227.8)"/><use href="#s" transform="matrix(150.53 0 0 1269.8 1823.1 227.8)"/><use href="#s" transform="matrix(161.08 0 0 1174.0 1838.6 227.8)"/><use href="#s" transform="matrix(172.95 0 0 1273.0 1836.7 227.8)"/><use href="#s" transform="matrix(142.22 0 0 1270.9 1861.6 227.8)"/><use href="#s" transform="matrix(144.20 0 0 1310.5 1814.0 227.8)"/><use href="#s" transform="matrix(169.07 0 0 1289.4 1833.3 227.8)"/><use href="#s" transform="matrix(157.77 0 0 1178.0 1809.2 227.8)"/><use href="#s" transform="matrix(142.36 0 0 1142.4 1804.9 227.8)"/><use href="#s" transform="matrix(178.02 0 0 1186.4 1846.3 227.8)"/><use href="#s" transform="matrix(140.26 0 0 1146.8 1825.5 227.8)"/><use href="#s" transform="matrix(155.31 0 0 1272.8 1868.5 227.8)"/><use href="#s" transform="matrix(166.66 0 0 1309.7 1864.3 227.8)"/><use href="#s" transform="matrix(154.27 0 0 1120.7 1814.3 227.8)"/>
</g>
<path d="M528.0 206.0V259.0M528.0 215.0V271.0M574.8 278.0V323.0M574.8 295.0V339.0M702.3 232.0V277.3M725.1 204.0V249.0M764.4 208.0V254.0M764.4 237.0V283.0M764.4 496.5V547.4M832.3 185.3V230.9M836.9 197.1V241.0M909.2 218.2V262.5M942.7 181.2V227.9M953.7 197.9V241.6M966.3 188.0V232.8M961.9 340.8V388.0M1006.7 188.6V234.5M1034.2 459.5V504.8M1179.0 222.4V267.0M1179.5 244.0V288.3M1197.9 206.2V251.8M1208.6 202.0V245.4M1224.0 201.2V243.2M1232.0 214.1V259.5M1179.5 380.6V425.7M1296.8 426.5V472.6M1390.8 257.5V303.4M1381.7 339.1V382.5M1390.8 474.0V519.9M1439.1 193.0V236.9M1435.3 226.2V269.9M1449.3 232.0V280.1M1483.6 209.5V253.4M1500.9 193.0V238.8M1718.4 202.0V245.7M1759.3 177.9V220.4M1714.6 292.1V340.8M1747.5 366.0V411.0M1747.5 395.0V453.4M2051.4 199.3V242.9M1983.5 453.1V500.7M1463.3 610.5V659.5M1453.4 655.3V710.0M1485.8 707.0V765.5M1308.9 693.0V788.0M1294.0 899.6V1090.8M1507.0 895.2V1185.0M1201.5 1205.5V1373.9M1426.2 1326.4V1505.5M1695.3 687.2V739.7M1964.3 762.7V843.5M1695.3 926.1V1104.7M2060.4 1015.7V1083.8M1967.6 1205.0V1343.4M2110.4 1247.5V1472.5M1711.8 1320.0V1447.8M1719.5 1423.1V1636.8M1759.3 1432.7V1710.5M1930.8 1334.6V1609.9M1956.6 1500.5V1722.0M1974.2 1480.8V1820.9M1975.8 1527.5V1746.8M2299.2 1178.0V1612.9M2294.5 1309.5V1543.0M2294.5 1459.0V1814.5M2321.6 1359.4V1628.6M2414.3 1355.5V1571.5M2445.6 1457.5V1680.1M2501.0 1415.5V1634.0M2489.6 1500.6V1798.0M2492.4 1515.2V1900.0M2969.0 1575.6V1869.7" stroke="#333" stroke-width="4.6" fill="none"/>
<g fill="#2b2b2b"><circle cx="528.0" cy="230.0" r="7.4"/><circle cx="528.0" cy="246.0" r="7.4"/><circle cx="574.8" cy="300.7" r="7.4"/><circle cx="574.8" cy="317.4" r="7.4"/><circle cx="702.3" cy="254.6" r="7.4"/><circle cx="725.1" cy="226.5" r="7.4"/><circle cx="764.4" cy="230.9" r="7.4"/><circle cx="764.4" cy="260.0" r="7.4"/><circle cx="764.4" cy="521.3" r="7.4"/><circle cx="832.3" cy="207.3" r="7.4"/><circle cx="836.9" cy="219.6" r="7.4"/><circle cx="909.2" cy="240.5" r="7.4"/><circle cx="942.7" cy="204.0" r="7.4"/><circle cx="953.7" cy="218.8" r="7.4"/><circle cx="966.3" cy="210.0" r="7.4"/><circle cx="961.9" cy="364.7" r="7.4"/><circle cx="1006.7" cy="211.1" r="7.4"/><circle cx="1034.2" cy="482.3" r="7.4"/><circle cx="1179.0" cy="244.6" r="7.4"/><circle cx="1179.5" cy="266.3" r="7.4"/><circle cx="1197.9" cy="228.7" r="7.4"/><circle cx="1208.6" cy="223.7" r="7.4"/><circle cx="1224.0" cy="222.4" r="7.4"/><circle cx="1232.0" cy="236.9" r="7.4"/><circle cx="1179.5" cy="402.3" r="7.4"/><circle cx="1296.8" cy="448.5" r="7.4"/><circle cx="1390.8" cy="281.4" r="7.4"/><circle cx="1381.7" cy="360.0" r="7.4"/><circle cx="1390.8" cy="497.0" r="7.4"/><circle cx="1439.1" cy="214.9" r="7.4"/><circle cx="1435.3" cy="247.9" r="7.4"/><circle cx="1449.3" cy="255.6" r="7.4"/><circle cx="1483.6" cy="232.3" r="7.4"/><circle cx="1500.9" cy="216.3" r="7.4"/><circle cx="1718.4" cy="224.3" r="7.4"/><circle cx="1759.3" cy="197.9" r="7.4"/><circle cx="1714.6" cy="317.4" r="7.4"/><circle cx="1747.5" cy="388.0" r="7.4"/><circle cx="1747.5" cy="423.7" r="7.4"/><circle cx="2051.4" cy="221.0" r="7.4"/><circle cx="1983.5" cy="476.5" r="7.4"/><circle cx="1463.3" cy="634.7" r="7.4"/><circle cx="1453.4" cy="682.3" r="7.4"/><circle cx="1485.8" cy="735.8" r="7.4"/><circle cx="1308.9" cy="738.6" r="7.4"/><circle cx="1294.0" cy="995.7" r="7.4"/><circle cx="1507.0" cy="1030.3" r="7.4"/><circle cx="1201.5" cy="1288.5" r="7.4"/><circle cx="1426.2" cy="1411.8" r="7.4"/><circle cx="1695.3" cy="713.3" r="7.4"/><circle cx="1964.3" cy="802.9" r="7.4"/><circle cx="1695.3" cy="1013.5" r="7.4"/><circle cx="2060.4" cy="1049.7" r="7.4"/><circle cx="1967.6" cy="1270.6" r="7.4"/><circle cx="2110.4" cy="1360.4" r="7.4"/><circle cx="1711.8" cy="1382.1" r="7.4"/><circle cx="1719.5" cy="1528.0" r="7.4"/><circle cx="1759.3" cy="1572.0" r="7.4"/><circle cx="1930.8" cy="1469.2" r="7.4"/><circle cx="1956.6" cy="1608.7" r="7.4"/><circle cx="1974.2" cy="1637.7" r="7.4"/><circle cx="1975.8" cy="1630.3" r="7.4"/><circle cx="2299.2" cy="1388.5" r="7.4"/><circle cx="2294.5" cy="1426.0" r="7.4"/><circle cx="2294.5" cy="1624.0" r="7.4"/><circle cx="2321.6" cy="1494.0" r="7.4"/><circle cx="2414.3" cy="1463.0" r="7.4"/><circle cx="2445.6" cy="1572.5" r="7.4"/><circle cx="2501.0" cy="1524.8" r="7.4"/><circle cx="2489.6" cy="1649.4" r="7.4"/><circle cx="2492.4" cy="1705.6" r="7.4"/><circle cx="2969.0" cy="1725.6" r="7.4"/></g>
<path d="M460.5 236.4 467.2 236.6 473.9 236.9 480.5 237.1 487.2 237.4 493.9 237.6 500.6 237.9 507.3 238.1 514.0 238.4 520.6 238.7 527.3 239.0 534.0 239.3 540.7 239.6 547.4 239.9 554.0 240.2 560.7 240.6 567.4 240.9 574.1 241.3 580.8 241.6 587.5 242.0 594.1 242.4 600.8 242.8 607.5 243.2 614.2 243.6 620.9 244.0 627.5 244.4 634.2 244.9 640.9 245.3 647.6 245.8 654.3 246.3 661.0 246.8 667.6 247.3 674.3 247.8 681.0 248.3 687.7 248.9 694.4 249.4 701.1 250.0 707.7 250.6 714.4 251.2 721.1 251.8 727.8 252.4 734.5 253.1 741.1 253.8 747.8 254.4 754.5 255.1 761.2 255.9 767.9 256.6 774.6 257.4 781.2 258.1 787.9 258.9 794.6 259.8 801.3 260.6 808.0 261.5 814.6 262.3 821.3 263.2 828.0 264.2 834.7 265.1 841.4 266.1 848.1 267.1 854.7 268.1 861.4 269.2 868.1 270.2 874.8 271.4 881.5 272.5 888.1 273.6 894.8 274.8 901.5 276.1 908.2 277.3 914.9 278.6 921.6 279.9 928.2 281.2 934.9 282.6 941.6 284.0 948.3 285.5 955.0 287.0 961.7 288.5 968.3 290.0 975.0 291.6 981.7 293.3 988.4 294.9 995.1 296.7 1001.7 298.4 1008.4 300.2 1015.1 302.0 1021.8 303.9 1028.5 305.9 1035.2 307.8 1041.8 309.9 1048.5 311.9 1055.2 314.0 1061.9 316.2 1068.6 318.4 1075.2 320.7 1081.9 323.0 1088.6 325.4 1095.3 327.8 1102.0 330.3 1108.7 332.8 1115.3 335.4 1122.0 338.1 1128.7 340.8 1135.4 343.6 1142.1 346.4 1148.7 349.3 1155.4 352.2 1162.1 355.3 1168.8 358.4 1175.5 361.5 1182.2 364.7 1188.8 368.0 1195.5 371.4 1202.2 374.8 1208.9 378.3 1215.6 381.9 1222.2 385.5 1228.9 389.3 1235.6 393.1 1242.3 396.9 1249.0 400.9 1255.7 404.9 1262.3 409.0 1269.0 413.2 1275.7 417.5 1282.4 421.8 1289.1 426.3 1295.8 430.8 1302.4 435.4 1309.1 440.1 1315.8 444.8 1322.5 449.7 1329.2 454.6 1335.8 459.7 1342.5 464.8 1349.2 470.0 1355.9 475.3 1362.6 480.6 1369.3 486.1 1375.9 491.7 1382.6 497.3 1389.3 503.0 1396.0 508.9 1402.7 514.8 1409.3 520.8 1416.0 526.9 1422.7 533.0 1429.4 539.3 1436.1 545.6 1442.8 552.1 1449.4 558.6 1456.1 565.2 1462.8 571.9 1469.5 578.7 1476.2 585.6 1482.8 592.5 1489.5 599.6 1496.2 606.7 1502.9 613.9 1509.6 621.2 1516.3 628.5 1522.9 636.0 1529.6 643.5 1536.3 651.0 1543.0 658.7 1549.7 666.4 1556.3 674.2 1563.0 682.1 1569.7 690.0 1576.4 698.0 1583.1 706.0 1589.8 714.1 1596.4 722.3 1603.1 730.5 1609.8 738.8 1616.5 747.1 1623.2 755.4 1629.9 763.8 1636.5 772.3 1643.2 780.8 1649.9 789.3 1656.6 797.8 1663.3 806.4 1669.9 815.0 1676.6 823.7 1683.3 832.3 1690.0 841.0 1696.7 849.7 1703.4 858.4 1710.0 867.1 1716.7 875.8 1723.4 884.5 1730.1 893.2 1736.8 901.9 1743.4 910.6 1750.1 919.3 1756.8 928.0 1763.5 936.7 1770.2 945.4 1776.9 954.0 1783.5 962.6 1790.2 971.2 1796.9 979.7 1803.6 988.2 1810.3 996.7 1816.9 1005.2 1823.6 1013.6 1830.3 1021.9 1837.0 1030.2 1843.7 1038.5 1850.4 1046.7 1857.0 1054.9 1863.7 1063.0 1870.4 1071.0 1877.1 1079.0 1883.8 1086.9 1890.4 1094.8 1897.1 1102.6 1903.8 1110.3 1910.5 1118.0 1917.2 1125.5 1923.9 1133.0 1930.5 1140.5 1937.2 1147.8 1943.9 1155.1 1950.6 1162.3 1957.3 1169.4 1964.0 1176.5 1970.6 1183.4 1977.3 1190.3 1984.0 1197.1 1990.7 1203.8 1997.4 1210.4 2004.0 1216.9 2010.7 1223.4 2017.4 1229.7 2024.1 1236.0 2030.8 1242.2 2037.5 1248.2 2044.1 1254.2 2050.8 1260.2 2057.5 1266.0 2064.2 1271.7 2070.9 1277.3 2077.5 1282.9 2084.2 1288.4 2090.9 1293.7 2097.6 1299.0 2104.3 1304.2 2111.0 1309.3 2117.6 1314.4 2124.3 1319.3 2131.0 1324.2 2137.7 1328.9 2144.4 1333.6 2151.0 1338.2 2157.7 1342.7 2164.4 1347.2 2171.1 1351.5 2177.8 1355.8 2184.5 1360.0 2191.1 1364.1 2197.8 1368.1 2204.5 1372.1 2211.2 1375.9 2217.9 1379.7 2224.5 1383.5 2231.2 1387.1 2237.9 1390.7 2244.6 1394.2 2251.3 1397.6 2258.0 1401.0 2264.6 1404.3 2271.3 1407.5 2278.0 1410.7 2284.7 1413.7 2291.4 1416.8 2298.1 1419.7 2304.7 1422.6 2311.4 1425.5 2318.1 1428.2 2324.8 1430.9 2331.5 1433.6 2338.1 1436.2 2344.8 1438.7 2351.5 1441.2 2358.2 1443.6 2364.9 1446.0 2371.6 1448.3 2378.2 1450.6 2384.9 1452.8 2391.6 1455.0 2398.3 1457.1 2405.0 1459.2 2411.6 1461.2 2418.3 1463.1 2425.0 1465.1 2431.7 1467.0 2438.4 1468.8 2445.1 1470.6 2451.7 1472.3 2458.4 1474.1 2465.1 1475.7 2471.8 1477.4 2478.5 1479.0 2485.1 1480.5 2491.8 1482.0 2498.5 1483.5 2505.2 1485.0 2511.9 1486.4 2518.6 1487.8 2525.2 1489.1 2531.9 1490.4 2538.6 1491.7 2545.3 1492.9 2552.0 1494.2 2558.6 1495.4 2565.3 1496.5 2572.0 1497.7 2578.7 1498.8 2585.4 1499.8 2592.1 1500.9 2598.7 1501.9 2605.4 1502.9 2612.1 1503.9 2618.8 1504.8 2625.5 1505.8 2632.2 1506.7 2638.8 1507.6 2645.5 1508.4 2652.2 1509.3 2658.9 1510.1 2665.6 1510.9 2672.2 1511.6 2678.9 1512.4 2685.6 1513.1 2692.3 1513.9 2699.0 1514.6 2705.7 1515.3 2712.3 1515.9 2719.0 1516.6 2725.7 1517.2 2732.4 1517.8 2739.1 1518.4 2745.7 1519.0 2752.4 1519.6 2759.1 1520.1 2765.8 1520.7 2772.5 1521.2 2779.2 1521.7 2785.8 1522.2 2792.5 1522.7 2799.2 1523.2 2805.9 1523.7 2812.6 1524.1 2819.2 1524.6 2825.9 1525.0 2832.6 1525.4 2839.3 1525.8 2846.0 1526.2 2852.7 1526.6 2859.3 1527.0 2866.0 1527.4 2872.7 1527.7 2879.4 1528.1 2886.1 1528.4 2892.7 1528.8 2899.4 1529.1 2906.1 1529.4 2912.8 1529.7 2919.5 1530.0 2926.2 1530.3 2932.8 1530.6 2939.5 1530.9 2946.2 1531.1 2952.9 1531.4 2959.6 1531.6 2966.2 1531.9 2972.9 1532.1 2979.6 1532.4 2986.3 1532.6 2993.0 1532.8 2999.7 1533.0 3006.3 1533.3 3013.0 1533.5 3019.7 1533.7 3026.4 1533.9 3033.1 1534.1 3039.8 1534.2 3046.4 1534.4 3053.1 1534.6 3059.8 1534.8 3066.5 1535.0 3073.2 1535.1 3079.8 1535.3 3086.5 1535.4 3093.2 1535.6 3099.9 1535.7 3106.6 1535.9 3113.3 1536.0 3119.9 1536.1 3126.6 1536.3 3133.3 1536.4" stroke="#262626" stroke-width="26.5" fill="none" clip-path="url(#cu)"/>
<rect x="331.25" y="27.25" width="2931.3" height="2707.2" fill="none" stroke="#333" stroke-width="8.7"/>
</g>
<path d="M315.3 235.4H327M315.3 574.8H327M315.3 914.2H327M315.3 1253.6H327M315.3 1593.0H327M315.3 1932.4H327M315.3 2271.8H327M460.5 2738.8V2750.5M1128.7 2738.8V2750.5M1796.9 2738.8V2750.5M2465.1 2738.8V2750.5M3133.3 2738.8V2750.5" stroke="#333" stroke-width="4.6" fill="none"/>
<g fill="#4d4d4d" font-size="91.67" text-anchor="end"><text transform="translate(305.2 269.0) scale(1 1.04)">0</text><text transform="translate(305.2 608.4) scale(1 1.04)">-4</text><text transform="translate(305.2 947.8) scale(1 1.04)">-8</text><text transform="translate(305.2 1287.2) scale(1 1.04)">-12</text><text transform="translate(305.2 1626.6) scale(1 1.04)">-16</text><text transform="translate(305.2 1966.0) scale(1 1.04)">-20</text><text transform="translate(305.2 2305.4) scale(1 1.04)">-24</text></g>
<g fill="#4d4d4d" font-size="91.67" text-anchor="middle"><text transform="translate(460.5 2827.8) scale(1 1.04)">0.00</text><text transform="translate(1128.7 2827.8) scale(1 1.04)">0.25</text><text transform="translate(1796.9 2827.8) scale(1 1.04)">0.50</text><text transform="translate(2465.1 2827.8) scale(1 1.04)">0.75</text><text transform="translate(3133.3 2827.8) scale(1 1.04)">1.00</text></g>
<text transform="translate(1797 2955.7) scale(1 1.04)" font-size="91.67" text-anchor="middle" fill="#000">Predicted sgRNA strength</text>
<text transform="translate(91 2118.1) rotate(-90) scale(1 1.04)" font-size="91.67" fill="#000">Predicted  log<tspan font-size="64" dy="16.2">2</tspan><tspan dy="-16.2"> FC at 25 generations</tspan></text>
<text transform="translate(3334.6 1349.5) scale(1 1.04)" font-size="104.5" fill="#000">Label</text>
<rect x="3342.6" y="1438.8" width="57.7" height="34.9" fill="#262626"/>
<text transform="translate(3458 1489.6) scale(1 1.04)" font-size="91.67" fill="#000">purM - ref</text>
</svg>
</body></html>
